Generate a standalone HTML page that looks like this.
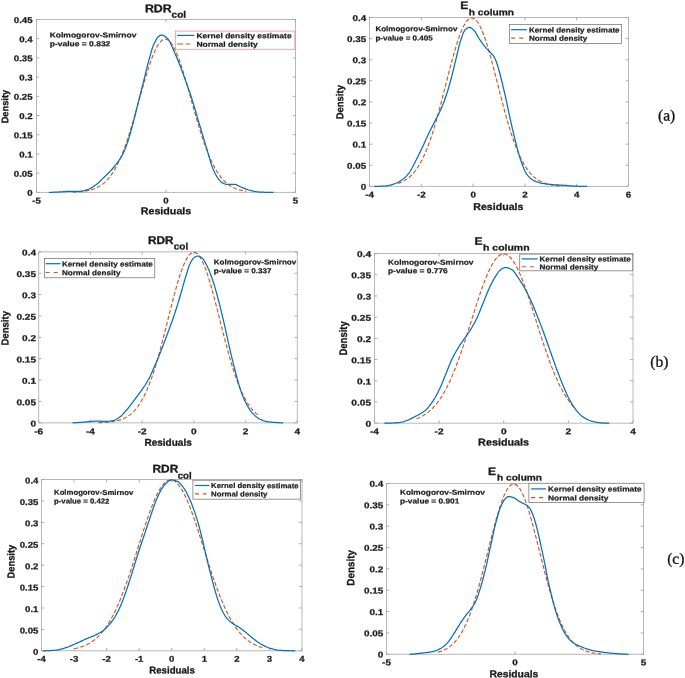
<!DOCTYPE html>
<html><head><meta charset="utf-8"><title>Residual density plots</title>
<style>
html,body{margin:0;padding:0;background:#fff;}
body{width:685px;height:678px;overflow:hidden;font-family:"Liberation Sans",sans-serif;}
svg{display:block;will-change:transform;}
</style></head><body>
<svg width="685" height="678" viewBox="0 0 685 678">
<rect width="685" height="678" fill="#ffffff"/>
<path d="M36.5 19.5H295.5V192.4H36.5Z" fill="none" stroke="#b8b8b8" stroke-width="1"/>
<path d="M36.5 192.4v-2.8M36.5 19.5v2.8M166 192.4v-2.8M166 19.5v2.8M295.5 192.4v-2.8M295.5 19.5v2.8M36.5 192.4h2.8M295.5 192.4h-2.8M36.5 173.19h2.8M295.5 173.19h-2.8M36.5 153.98h2.8M295.5 153.98h-2.8M36.5 134.77h2.8M295.5 134.77h-2.8M36.5 115.56h2.8M295.5 115.56h-2.8M36.5 96.34h2.8M295.5 96.34h-2.8M36.5 77.13h2.8M295.5 77.13h-2.8M36.5 57.92h2.8M295.5 57.92h-2.8M36.5 38.71h2.8M295.5 38.71h-2.8M36.5 19.5h2.8M295.5 19.5h-2.8" fill="none" stroke="#a4a4a4" stroke-width="0.9"/>
<text transform="translate(36.5 203.4) rotate(0.03) scale(1.150 1.000)" font-family="Liberation Sans, sans-serif" font-size="8.4" font-weight="bold" fill="#1a1a1a" text-anchor="middle" stroke="#1a1a1a" stroke-width="0.25" stroke-linejoin="round">-5</text>
<text transform="translate(166 203.4) rotate(0.03) scale(1.150 1.000)" font-family="Liberation Sans, sans-serif" font-size="8.4" font-weight="bold" fill="#1a1a1a" text-anchor="middle" stroke="#1a1a1a" stroke-width="0.25" stroke-linejoin="round">0</text>
<text transform="translate(295.5 203.4) rotate(0.03) scale(1.150 1.000)" font-family="Liberation Sans, sans-serif" font-size="8.4" font-weight="bold" fill="#1a1a1a" text-anchor="middle" stroke="#1a1a1a" stroke-width="0.25" stroke-linejoin="round">5</text>
<text transform="translate(32.6 195.85) rotate(0.03) scale(1.150 1.000)" font-family="Liberation Sans, sans-serif" font-size="8.4" font-weight="bold" fill="#1a1a1a" text-anchor="end" stroke="#1a1a1a" stroke-width="0.25" stroke-linejoin="round">0</text>
<text transform="translate(32.6 176.64) rotate(0.03) scale(1.150 1.000)" font-family="Liberation Sans, sans-serif" font-size="8.4" font-weight="bold" fill="#1a1a1a" text-anchor="end" stroke="#1a1a1a" stroke-width="0.25" stroke-linejoin="round">0.05</text>
<text transform="translate(32.6 157.43) rotate(0.03) scale(1.150 1.000)" font-family="Liberation Sans, sans-serif" font-size="8.4" font-weight="bold" fill="#1a1a1a" text-anchor="end" stroke="#1a1a1a" stroke-width="0.25" stroke-linejoin="round">0.1</text>
<text transform="translate(32.6 138.22) rotate(0.03) scale(1.150 1.000)" font-family="Liberation Sans, sans-serif" font-size="8.4" font-weight="bold" fill="#1a1a1a" text-anchor="end" stroke="#1a1a1a" stroke-width="0.25" stroke-linejoin="round">0.15</text>
<text transform="translate(32.6 119.01) rotate(0.03) scale(1.150 1.000)" font-family="Liberation Sans, sans-serif" font-size="8.4" font-weight="bold" fill="#1a1a1a" text-anchor="end" stroke="#1a1a1a" stroke-width="0.25" stroke-linejoin="round">0.2</text>
<text transform="translate(32.6 99.79) rotate(0.03) scale(1.150 1.000)" font-family="Liberation Sans, sans-serif" font-size="8.4" font-weight="bold" fill="#1a1a1a" text-anchor="end" stroke="#1a1a1a" stroke-width="0.25" stroke-linejoin="round">0.25</text>
<text transform="translate(32.6 80.58) rotate(0.03) scale(1.150 1.000)" font-family="Liberation Sans, sans-serif" font-size="8.4" font-weight="bold" fill="#1a1a1a" text-anchor="end" stroke="#1a1a1a" stroke-width="0.25" stroke-linejoin="round">0.3</text>
<text transform="translate(32.6 61.37) rotate(0.03) scale(1.150 1.000)" font-family="Liberation Sans, sans-serif" font-size="8.4" font-weight="bold" fill="#1a1a1a" text-anchor="end" stroke="#1a1a1a" stroke-width="0.25" stroke-linejoin="round">0.35</text>
<text transform="translate(32.6 42.16) rotate(0.03) scale(1.150 1.000)" font-family="Liberation Sans, sans-serif" font-size="8.4" font-weight="bold" fill="#1a1a1a" text-anchor="end" stroke="#1a1a1a" stroke-width="0.25" stroke-linejoin="round">0.4</text>
<text transform="translate(32.6 22.95) rotate(0.03) scale(1.150 1.000)" font-family="Liberation Sans, sans-serif" font-size="8.4" font-weight="bold" fill="#1a1a1a" text-anchor="end" stroke="#1a1a1a" stroke-width="0.25" stroke-linejoin="round">0.45</text>
<path d="M72.76 192.14 L73.63 192.1 L74.5 192.07 L75.38 192.03 L76.25 191.98 L77.12 191.93 L77.99 191.87 L78.86 191.81 L79.74 191.74 L80.61 191.66 L81.48 191.58 L82.35 191.48 L83.22 191.38 L84.1 191.27 L84.97 191.14 L85.84 191 L86.71 190.85 L87.58 190.69 L88.46 190.5 L89.33 190.31 L90.2 190.09 L91.07 189.86 L91.94 189.6 L92.82 189.32 L93.69 189.02 L94.56 188.69 L95.43 188.34 L96.3 187.95 L97.18 187.54 L98.05 187.09 L98.92 186.61 L99.79 186.1 L100.66 185.54 L101.54 184.94 L102.41 184.3 L103.28 183.62 L104.15 182.89 L105.02 182.11 L105.9 181.28 L106.77 180.39 L107.64 179.45 L108.51 178.46 L109.38 177.4 L110.26 176.28 L111.13 175.09 L112 173.84 L112.87 172.52 L113.74 171.14 L114.62 169.68 L115.49 168.15 L116.36 166.54 L117.23 164.86 L118.1 163.1 L118.98 161.27 L119.85 159.36 L120.72 157.37 L121.59 155.31 L122.46 153.17 L123.34 150.95 L124.21 148.65 L125.08 146.28 L125.95 143.84 L126.82 141.33 L127.7 138.74 L128.57 136.09 L129.44 133.38 L130.31 130.6 L131.18 127.77 L132.06 124.88 L132.93 121.95 L133.8 118.97 L134.67 115.95 L135.54 112.9 L136.42 109.82 L137.29 106.72 L138.16 103.6 L139.03 100.47 L139.9 97.34 L140.78 94.22 L141.65 91.1 L142.52 88.01 L143.39 84.94 L144.26 81.91 L145.14 78.93 L146.01 75.99 L146.88 73.12 L147.75 70.31 L148.62 67.57 L149.5 64.92 L150.37 62.36 L151.24 59.9 L152.11 57.55 L152.98 55.31 L153.86 53.19 L154.73 51.2 L155.6 49.34 L156.47 47.62 L157.34 46.05 L158.22 44.62 L159.09 43.36 L159.96 42.25 L160.83 41.3 L161.71 40.53 L162.58 39.92 L163.45 39.48 L164.32 39.21 L165.19 39.12 L166.07 39.2 L166.94 39.45 L167.81 39.88 L168.68 40.48 L169.55 41.24 L170.43 42.18 L171.3 43.28 L172.17 44.53 L173.04 45.94 L173.91 47.51 L174.79 49.22 L175.66 51.07 L176.53 53.05 L177.4 55.16 L178.27 57.39 L179.15 59.74 L180.02 62.19 L180.89 64.74 L181.76 67.39 L182.63 70.12 L183.51 72.92 L184.38 75.79 L185.25 78.72 L186.12 81.71 L186.99 84.74 L187.87 87.8 L188.74 90.89 L189.61 94 L190.48 97.13 L191.35 100.26 L192.23 103.38 L193.1 106.5 L193.97 109.61 L194.84 112.69 L195.71 115.74 L196.59 118.76 L197.46 121.75 L198.33 124.68 L199.2 127.57 L200.07 130.41 L200.95 133.19 L201.82 135.91 L202.69 138.56 L203.56 141.15 L204.43 143.67 L205.31 146.12 L206.18 148.49 L207.05 150.79 L207.92 153.02 L208.79 155.16 L209.67 157.23 L210.54 159.23 L211.41 161.14 L212.28 162.98 L213.15 164.74 L214.03 166.43 L214.9 168.04 L215.77 169.57 L216.64 171.04 L217.51 172.43 L218.39 173.75 L219.26 175.01 L220.13 176.2 L221 177.32 L221.87 178.38 L222.75 179.39 L223.62 180.33 L224.49 181.22 L225.36 182.05 L226.23 182.84 L227.11 183.57 L227.98 184.26 L228.85 184.9 L229.72 185.5 L230.59 186.06 L231.47 186.58 L232.34 187.06 L233.21 187.51 L234.08 187.93 L234.95 188.31 L235.83 188.67 L236.7 189 L237.57 189.3 L238.44 189.58 L239.31 189.84 L240.19 190.07 L241.06 190.29 L241.93 190.49 L242.8 190.67 L243.67 190.84 L244.55 190.99 L245.42 191.13 L246.29 191.26" fill="none" stroke="#D95319" stroke-width="1.15" stroke-dasharray="4.1 2.1"/>
<path d="M49.45 192.4 L50.31 192.37 L51.18 192.33 L52.04 192.3 L52.9 192.26 L53.77 192.22 L54.63 192.18 L55.49 192.15 L56.35 192.11 L57.22 192.07 L58.08 192.02 L58.94 191.98 L59.81 191.94 L60.67 191.89 L61.53 191.84 L62.4 191.78 L63.26 191.72 L64.12 191.66 L64.98 191.6 L65.85 191.55 L66.71 191.49 L67.57 191.45 L68.44 191.41 L69.3 191.38 L70.16 191.36 L71.03 191.34 L71.89 191.33 L72.75 191.33 L73.61 191.32 L74.48 191.31 L75.34 191.31 L76.2 191.3 L77.07 191.29 L77.93 191.29 L78.79 191.27 L79.66 191.26 L80.52 191.24 L81.38 191.17 L82.24 191.06 L83.11 190.9 L83.97 190.7 L84.83 190.47 L85.7 190.22 L86.56 189.95 L87.42 189.67 L88.28 189.38 L89.15 189.03 L90.01 188.62 L90.87 188.16 L91.74 187.66 L92.6 187.12 L93.46 186.55 L94.33 185.96 L95.19 185.36 L96.05 184.74 L96.91 184.05 L97.78 183.32 L98.64 182.54 L99.5 181.72 L100.37 180.88 L101.23 180.03 L102.09 179.18 L102.96 178.34 L103.82 177.52 L104.68 176.7 L105.55 175.87 L106.41 175.05 L107.27 174.21 L108.13 173.35 L109 172.48 L109.86 171.59 L110.72 170.67 L111.59 169.72 L112.45 168.76 L113.31 167.77 L114.17 166.75 L115.04 165.7 L115.9 164.62 L116.76 163.49 L117.63 162.33 L118.49 161.13 L119.35 159.9 L120.22 158.61 L121.08 157.24 L121.94 155.75 L122.8 154.13 L123.67 152.33 L124.53 150.37 L125.39 148.25 L126.26 145.99 L127.12 143.62 L127.98 141.14 L128.85 138.44 L129.71 135.53 L130.57 132.46 L131.44 129.29 L132.3 126.06 L133.16 122.83 L134.02 119.49 L134.89 116.03 L135.75 112.51 L136.61 108.98 L137.48 105.47 L138.34 102.03 L139.2 98.63 L140.06 95.24 L140.93 91.87 L141.79 88.48 L142.65 85.09 L143.52 81.66 L144.38 78.16 L145.24 74.6 L146.11 71.06 L146.97 67.58 L147.83 64.22 L148.69 61.02 L149.56 57.8 L150.42 54.6 L151.28 51.55 L152.15 48.76 L153.01 46.35 L153.87 44.33 L154.74 42.42 L155.6 40.65 L156.46 39.08 L157.32 37.77 L158.19 36.81 L159.05 36.15 L159.91 35.58 L160.78 35.17 L161.64 35.02 L162.5 35.14 L163.37 35.45 L164.23 35.92 L165.09 36.51 L165.95 37.18 L166.82 37.91 L167.68 38.7 L168.54 39.76 L169.41 41.12 L170.27 42.71 L171.13 44.49 L172 46.41 L172.86 48.41 L173.72 50.45 L174.58 52.48 L175.45 54.45 L176.31 56.42 L177.17 58.47 L178.04 60.59 L178.9 62.77 L179.76 64.99 L180.63 67.26 L181.49 69.55 L182.35 71.85 L183.21 74.15 L184.08 76.46 L184.94 78.79 L185.8 81.14 L186.67 83.52 L187.53 85.93 L188.39 88.39 L189.26 90.89 L190.12 93.44 L190.98 96.05 L191.84 98.75 L192.71 101.54 L193.57 104.4 L194.43 107.3 L195.3 110.25 L196.16 113.2 L197.02 116.16 L197.89 119.09 L198.75 121.99 L199.61 124.88 L200.47 127.77 L201.34 130.67 L202.2 133.56 L203.06 136.46 L203.93 139.34 L204.79 142.22 L205.65 145.08 L206.52 147.94 L207.38 150.9 L208.24 153.93 L209.1 156.97 L209.97 159.94 L210.83 162.76 L211.69 165.36 L212.56 167.66 L213.42 169.72 L214.28 171.67 L215.15 173.49 L216.01 175.15 L216.87 176.63 L217.73 177.9 L218.6 179.04 L219.46 180.12 L220.32 181.12 L221.19 181.98 L222.05 182.67 L222.91 183.15 L223.78 183.48 L224.64 183.79 L225.5 184.05 L226.36 184.26 L227.23 184.39 L228.09 184.45 L228.95 184.45 L229.82 184.45 L230.68 184.45 L231.54 184.45 L232.41 184.45 L233.27 184.45 L234.13 184.45 L235 184.47 L235.86 184.64 L236.72 184.94 L237.58 185.33 L238.45 185.78 L239.31 186.24 L240.17 186.67 L241.04 187.04 L241.9 187.38 L242.76 187.73 L243.62 188.09 L244.49 188.45 L245.35 188.8 L246.21 189.14 L247.08 189.46 L247.94 189.76 L248.8 190.03 L249.67 190.26 L250.53 190.47 L251.39 190.68 L252.26 190.88 L253.12 191.07 L253.98 191.26 L254.84 191.44 L255.71 191.6 L256.57 191.75 L257.43 191.87 L258.3 191.98 L259.16 192.06 L260.02 192.12 L260.88 192.15 L261.75 192.19 L262.61 192.22 L263.47 192.24 L264.34 192.27 L265.2 192.29 L266.06 192.31 L266.93 192.33 L267.79 192.35 L268.65 192.37 L269.51 192.38 L270.38 192.39 L271.24 192.39 L272.1 192.4 L272.97 192.4" fill="none" stroke="#0072BD" stroke-width="1.25" stroke-linejoin="round" stroke-linecap="round"/>
<rect x="175.3" y="31.1" width="119.6" height="18.2" fill="#fff" stroke="#f09090" stroke-width="0.8"/>
<path d="M177.2 35.4H194.3" stroke="#0072BD" stroke-width="1.2" fill="none"/>
<path d="M177.2 44H183.3M185.6 44H190.5" stroke="#D95319" stroke-width="1.15" fill="none"/>
<text transform="translate(196.4 38.3) rotate(0.03) scale(1.164 1.000)" font-family="Liberation Sans, sans-serif" font-size="7.3" font-weight="bold" fill="#1a1a1a" text-anchor="start" stroke="#1a1a1a" stroke-width="0.22" stroke-linejoin="round">Kernel density estimate</text>
<text transform="translate(196.4 46.8) rotate(0.03) scale(1.164 1.000)" font-family="Liberation Sans, sans-serif" font-size="7.3" font-weight="bold" fill="#1a1a1a" text-anchor="start" stroke="#1a1a1a" stroke-width="0.22" stroke-linejoin="round">Normal density</text>
<text transform="translate(49.7 37.4) rotate(0.03) scale(1.166 1.000)" font-family="Liberation Sans, sans-serif" font-size="7.3" font-weight="bold" fill="#1a1a1a" text-anchor="start" stroke="#1a1a1a" stroke-width="0.22" stroke-linejoin="round">Kolmogorov-Smirnov</text>
<text transform="translate(49.7 46.15) rotate(0.03) scale(1.166 1.000)" font-family="Liberation Sans, sans-serif" font-size="7.3" font-weight="bold" fill="#1a1a1a" text-anchor="start" stroke="#1a1a1a" stroke-width="0.22" stroke-linejoin="round">p-value = 0.832</text>
<text transform="translate(144.9 12.2) rotate(0.03) scale(1.104 1.000)" font-family="Liberation Sans, sans-serif" font-size="11.2" font-weight="bold" fill="#1a1a1a" text-anchor="start" stroke="#1a1a1a" stroke-width="0.34" stroke-linejoin="round">RDR</text>
<text transform="translate(171.6 17.7) rotate(0.03) scale(1.056 1.000)" font-family="Liberation Sans, sans-serif" font-size="9.5" font-weight="bold" fill="#1a1a1a" text-anchor="start" stroke="#1a1a1a" stroke-width="0.28" stroke-linejoin="round">col</text>
<text transform="translate(8.15 106.6) rotate(-89.97) scale(1.000 1.040)" font-family="Liberation Sans, sans-serif" font-size="9.3" font-weight="bold" fill="#1a1a1a" text-anchor="middle" stroke="#1a1a1a" stroke-width="0.28" stroke-linejoin="round">Density</text>
<text transform="translate(140.75 214.3) rotate(0.03) scale(1.091 1.000)" font-family="Liberation Sans, sans-serif" font-size="9.8" font-weight="bold" fill="#1a1a1a" text-anchor="start" stroke="#1a1a1a" stroke-width="0.29" stroke-linejoin="round">Residuals</text>
<path d="M369.5 17.5H628.5V186.4H369.5Z" fill="none" stroke="#b8b8b8" stroke-width="1"/>
<path d="M369.5 186.4v-2.8M369.5 17.5v2.8M421.3 186.4v-2.8M421.3 17.5v2.8M473.1 186.4v-2.8M473.1 17.5v2.8M524.9 186.4v-2.8M524.9 17.5v2.8M576.7 186.4v-2.8M576.7 17.5v2.8M628.5 186.4v-2.8M628.5 17.5v2.8M369.5 186.4h2.8M628.5 186.4h-2.8M369.5 165.29h2.8M628.5 165.29h-2.8M369.5 144.18h2.8M628.5 144.18h-2.8M369.5 123.06h2.8M628.5 123.06h-2.8M369.5 101.95h2.8M628.5 101.95h-2.8M369.5 80.84h2.8M628.5 80.84h-2.8M369.5 59.73h2.8M628.5 59.73h-2.8M369.5 38.61h2.8M628.5 38.61h-2.8M369.5 17.5h2.8M628.5 17.5h-2.8" fill="none" stroke="#a4a4a4" stroke-width="0.9"/>
<text transform="translate(369.5 197.4) rotate(0.03) scale(1.170 1.000)" font-family="Liberation Sans, sans-serif" font-size="8.4" font-weight="bold" fill="#1a1a1a" text-anchor="middle" stroke="#1a1a1a" stroke-width="0.25" stroke-linejoin="round">-4</text>
<text transform="translate(421.3 197.4) rotate(0.03) scale(1.170 1.000)" font-family="Liberation Sans, sans-serif" font-size="8.4" font-weight="bold" fill="#1a1a1a" text-anchor="middle" stroke="#1a1a1a" stroke-width="0.25" stroke-linejoin="round">-2</text>
<text transform="translate(473.1 197.4) rotate(0.03) scale(1.170 1.000)" font-family="Liberation Sans, sans-serif" font-size="8.4" font-weight="bold" fill="#1a1a1a" text-anchor="middle" stroke="#1a1a1a" stroke-width="0.25" stroke-linejoin="round">0</text>
<text transform="translate(524.9 197.4) rotate(0.03) scale(1.170 1.000)" font-family="Liberation Sans, sans-serif" font-size="8.4" font-weight="bold" fill="#1a1a1a" text-anchor="middle" stroke="#1a1a1a" stroke-width="0.25" stroke-linejoin="round">2</text>
<text transform="translate(576.7 197.4) rotate(0.03) scale(1.170 1.000)" font-family="Liberation Sans, sans-serif" font-size="8.4" font-weight="bold" fill="#1a1a1a" text-anchor="middle" stroke="#1a1a1a" stroke-width="0.25" stroke-linejoin="round">4</text>
<text transform="translate(628.5 197.4) rotate(0.03) scale(1.170 1.000)" font-family="Liberation Sans, sans-serif" font-size="8.4" font-weight="bold" fill="#1a1a1a" text-anchor="middle" stroke="#1a1a1a" stroke-width="0.25" stroke-linejoin="round">6</text>
<text transform="translate(366.2 189.8) rotate(0.03) scale(1.170 1.000)" font-family="Liberation Sans, sans-serif" font-size="8.4" font-weight="bold" fill="#1a1a1a" text-anchor="end" stroke="#1a1a1a" stroke-width="0.25" stroke-linejoin="round">0</text>
<text transform="translate(366.2 168.69) rotate(0.03) scale(1.170 1.000)" font-family="Liberation Sans, sans-serif" font-size="8.4" font-weight="bold" fill="#1a1a1a" text-anchor="end" stroke="#1a1a1a" stroke-width="0.25" stroke-linejoin="round">0.05</text>
<text transform="translate(366.2 147.58) rotate(0.03) scale(1.170 1.000)" font-family="Liberation Sans, sans-serif" font-size="8.4" font-weight="bold" fill="#1a1a1a" text-anchor="end" stroke="#1a1a1a" stroke-width="0.25" stroke-linejoin="round">0.1</text>
<text transform="translate(366.2 126.46) rotate(0.03) scale(1.170 1.000)" font-family="Liberation Sans, sans-serif" font-size="8.4" font-weight="bold" fill="#1a1a1a" text-anchor="end" stroke="#1a1a1a" stroke-width="0.25" stroke-linejoin="round">0.15</text>
<text transform="translate(366.2 105.35) rotate(0.03) scale(1.170 1.000)" font-family="Liberation Sans, sans-serif" font-size="8.4" font-weight="bold" fill="#1a1a1a" text-anchor="end" stroke="#1a1a1a" stroke-width="0.25" stroke-linejoin="round">0.2</text>
<text transform="translate(366.2 84.24) rotate(0.03) scale(1.170 1.000)" font-family="Liberation Sans, sans-serif" font-size="8.4" font-weight="bold" fill="#1a1a1a" text-anchor="end" stroke="#1a1a1a" stroke-width="0.25" stroke-linejoin="round">0.25</text>
<text transform="translate(366.2 63.13) rotate(0.03) scale(1.170 1.000)" font-family="Liberation Sans, sans-serif" font-size="8.4" font-weight="bold" fill="#1a1a1a" text-anchor="end" stroke="#1a1a1a" stroke-width="0.25" stroke-linejoin="round">0.3</text>
<text transform="translate(366.2 42.01) rotate(0.03) scale(1.170 1.000)" font-family="Liberation Sans, sans-serif" font-size="8.4" font-weight="bold" fill="#1a1a1a" text-anchor="end" stroke="#1a1a1a" stroke-width="0.25" stroke-linejoin="round">0.35</text>
<text transform="translate(366.2 20.9) rotate(0.03) scale(1.170 1.000)" font-family="Liberation Sans, sans-serif" font-size="8.4" font-weight="bold" fill="#1a1a1a" text-anchor="end" stroke="#1a1a1a" stroke-width="0.25" stroke-linejoin="round">0.4</text>
<path d="M397.99 183.5 L398.82 183.22 L399.64 182.93 L400.47 182.61 L401.3 182.26 L402.12 181.89 L402.95 181.48 L403.78 181.05 L404.6 180.59 L405.43 180.09 L406.25 179.55 L407.08 178.98 L407.91 178.37 L408.73 177.71 L409.56 177.02 L410.39 176.28 L411.21 175.48 L412.04 174.64 L412.87 173.75 L413.69 172.81 L414.52 171.81 L415.35 170.75 L416.17 169.63 L417 168.45 L417.82 167.2 L418.65 165.89 L419.48 164.52 L420.3 163.07 L421.13 161.56 L421.96 159.97 L422.78 158.31 L423.61 156.57 L424.44 154.77 L425.26 152.88 L426.09 150.92 L426.92 148.89 L427.74 146.77 L428.57 144.58 L429.4 142.32 L430.22 139.98 L431.05 137.56 L431.87 135.07 L432.7 132.51 L433.53 129.88 L434.35 127.18 L435.18 124.42 L436.01 121.59 L436.83 118.7 L437.66 115.76 L438.49 112.76 L439.31 109.71 L440.14 106.62 L440.97 103.49 L441.79 100.32 L442.62 97.12 L443.45 93.9 L444.27 90.66 L445.1 87.41 L445.92 84.15 L446.75 80.89 L447.58 77.64 L448.4 74.4 L449.23 71.18 L450.06 67.99 L450.88 64.84 L451.71 61.73 L452.54 58.67 L453.36 55.67 L454.19 52.73 L455.02 49.87 L455.84 47.09 L456.67 44.39 L457.49 41.79 L458.32 39.3 L459.15 36.91 L459.97 34.64 L460.8 32.49 L461.63 30.46 L462.45 28.58 L463.28 26.83 L464.11 25.23 L464.93 23.77 L465.76 22.47 L466.59 21.33 L467.41 20.35 L468.24 19.54 L469.07 18.89 L469.89 18.41 L470.72 18.09 L471.54 17.96 L472.37 17.99 L473.2 18.19 L474.02 18.56 L474.85 19.11 L475.68 19.82 L476.5 20.7 L477.33 21.74 L478.16 22.94 L478.98 24.29 L479.81 25.8 L480.64 27.46 L481.46 29.26 L482.29 31.2 L483.12 33.27 L483.94 35.46 L484.77 37.78 L485.59 40.21 L486.42 42.74 L487.25 45.38 L488.07 48.11 L488.9 50.92 L489.73 53.81 L490.55 56.77 L491.38 59.8 L492.21 62.88 L493.03 66 L493.86 69.17 L494.69 72.37 L495.51 75.6 L496.34 78.84 L497.16 82.1 L497.99 85.36 L498.82 88.61 L499.64 91.86 L500.47 95.1 L501.3 98.31 L502.12 101.5 L502.95 104.65 L503.78 107.77 L504.6 110.84 L505.43 113.87 L506.26 116.85 L507.08 119.78 L507.91 122.64 L508.74 125.45 L509.56 128.19 L510.39 130.86 L511.21 133.47 L512.04 136 L512.87 138.46 L513.69 140.85 L514.52 143.16 L515.35 145.4 L516.17 147.56 L517 149.65 L517.83 151.66 L518.65 153.59 L519.48 155.44 L520.31 157.22 L521.13 158.93 L521.96 160.56 L522.79 162.12 L523.61 163.61 L524.44 165.03 L525.26 166.39 L526.09 167.67 L526.92 168.89 L527.74 170.05 L528.57 171.15 L529.4 172.18 L530.22 173.16 L531.05 174.09 L531.88 174.96 L532.7 175.78 L533.53 176.56 L534.36 177.28 L535.18 177.96 L536.01 178.6 L536.83 179.2 L537.66 179.75 L538.49 180.28 L539.31 180.76 L540.14 181.21 L540.97 181.64 L541.79 182.03 L542.62 182.39 L543.45 182.73 L544.27 183.04 L545.1 183.33 L545.93 183.59 L546.75 183.84 L547.58 184.07 L548.41 184.28 L549.23 184.47 L550.06 184.65 L550.88 184.81 L551.71 184.96 L552.54 185.09 L553.36 185.22 L554.19 185.33 L555.02 185.43 L555.84 185.53 L556.67 185.61 L557.5 185.69 L558.32 185.76 L559.15 185.83 L559.98 185.89 L560.8 185.94 L561.63 185.99 L562.46 186.03" fill="none" stroke="#D95319" stroke-width="1.15" stroke-dasharray="4.1 2.1"/>
<path d="M374.68 186.4 L375.5 186.4 L376.32 186.39 L377.14 186.37 L377.96 186.35 L378.77 186.32 L379.59 186.29 L380.41 186.25 L381.23 186.21 L382.05 186.17 L382.87 186.12 L383.69 186.07 L384.51 186.01 L385.33 185.96 L386.15 185.87 L386.96 185.76 L387.78 185.62 L388.6 185.46 L389.42 185.27 L390.24 185.07 L391.06 184.84 L391.88 184.6 L392.7 184.35 L393.52 184.08 L394.34 183.81 L395.15 183.53 L395.97 183.23 L396.79 182.9 L397.61 182.52 L398.43 182.1 L399.25 181.64 L400.07 181.15 L400.89 180.63 L401.71 180.08 L402.53 179.5 L403.35 178.89 L404.16 178.22 L404.98 177.48 L405.8 176.68 L406.62 175.82 L407.44 174.89 L408.26 173.91 L409.08 172.87 L409.9 171.75 L410.72 170.48 L411.54 169.07 L412.35 167.55 L413.17 165.97 L413.99 164.34 L414.81 162.71 L415.63 161.09 L416.45 159.5 L417.27 157.89 L418.09 156.24 L418.91 154.58 L419.73 152.89 L420.54 151.19 L421.36 149.48 L422.18 147.75 L423 146 L423.82 144.2 L424.64 142.39 L425.46 140.56 L426.28 138.74 L427.1 136.94 L427.92 135.17 L428.73 133.45 L429.55 131.77 L430.37 130.12 L431.19 128.48 L432.01 126.87 L432.83 125.26 L433.65 123.66 L434.47 122.05 L435.29 120.44 L436.11 118.87 L436.92 117.33 L437.74 115.79 L438.56 114.21 L439.38 112.57 L440.2 110.83 L441.02 109 L441.84 107.1 L442.66 105.12 L443.48 103.06 L444.3 100.91 L445.11 98.67 L445.93 96.31 L446.75 93.82 L447.57 91.19 L448.39 88.46 L449.21 85.64 L450.03 82.73 L450.85 79.75 L451.67 76.61 L452.49 73.33 L453.3 69.97 L454.12 66.58 L454.94 63.21 L455.76 59.91 L456.58 56.51 L457.4 53 L458.22 49.52 L459.04 46.19 L459.86 43.12 L460.68 40.43 L461.49 38 L462.31 35.61 L463.13 33.43 L463.95 31.6 L464.77 30.26 L465.59 29.41 L466.41 28.68 L467.23 28.06 L468.05 27.61 L468.87 27.36 L469.68 27.38 L470.5 27.65 L471.32 28.1 L472.14 28.69 L472.96 29.36 L473.78 30.06 L474.6 31 L475.42 32.23 L476.24 33.65 L477.06 35.16 L477.87 36.66 L478.69 38.05 L479.51 39.28 L480.33 40.47 L481.15 41.64 L481.97 42.79 L482.79 43.9 L483.61 44.98 L484.43 46.03 L485.25 47.02 L486.06 47.96 L486.88 48.84 L487.7 49.68 L488.52 50.51 L489.34 51.35 L490.16 52.22 L490.98 53.12 L491.8 53.97 L492.62 54.86 L493.44 55.85 L494.25 57.05 L495.07 58.63 L495.89 60.65 L496.71 63 L497.53 65.55 L498.35 68.15 L499.17 70.96 L499.99 74.03 L500.81 77.26 L501.62 80.57 L502.44 83.89 L503.26 87.28 L504.08 90.75 L504.9 94.31 L505.72 97.94 L506.54 101.66 L507.36 105.54 L508.18 109.49 L509 113.42 L509.81 117.22 L510.63 120.9 L511.45 124.51 L512.27 128.07 L513.09 131.56 L513.91 134.98 L514.73 138.38 L515.55 141.74 L516.37 145 L517.19 148.12 L518 151.09 L518.82 154.01 L519.64 156.81 L520.46 159.44 L521.28 161.84 L522.1 164.08 L522.92 166.26 L523.74 168.34 L524.56 170.25 L525.38 171.94 L526.19 173.35 L527.01 174.49 L527.83 175.54 L528.65 176.5 L529.47 177.37 L530.29 178.15 L531.11 178.85 L531.93 179.45 L532.75 179.97 L533.57 180.4 L534.38 180.81 L535.2 181.19 L536.02 181.55 L536.84 181.87 L537.66 182.18 L538.48 182.45 L539.3 182.7 L540.12 182.92 L540.94 183.12 L541.76 183.29 L542.57 183.44 L543.39 183.58 L544.21 183.71 L545.03 183.83 L545.85 183.94 L546.67 184.04 L547.49 184.14 L548.31 184.23 L549.13 184.31 L549.95 184.39 L550.76 184.47 L551.58 184.54 L552.4 184.61 L553.22 184.67 L554.04 184.73 L554.86 184.79 L555.68 184.84 L556.5 184.89 L557.32 184.94 L558.14 184.99 L558.95 185.03 L559.77 185.08 L560.59 185.12 L561.41 185.17 L562.23 185.21 L563.05 185.26 L563.87 185.31 L564.69 185.36 L565.51 185.42 L566.33 185.48 L567.14 185.55 L567.96 185.62 L568.78 185.69 L569.6 185.76 L570.42 185.83 L571.24 185.9 L572.06 185.96 L572.88 186.02 L573.7 186.07 L574.52 186.11 L575.34 186.15 L576.15 186.18 L576.97 186.2 L577.79 186.23 L578.61 186.26 L579.43 186.28 L580.25 186.3 L581.07 186.32 L581.89 186.34 L582.71 186.36 L583.52 186.37 L584.34 186.38 L585.16 186.39 L585.98 186.4 L586.8 186.4" fill="none" stroke="#0072BD" stroke-width="1.25" stroke-linejoin="round" stroke-linecap="round"/>
<rect x="509.4" y="24.5" width="112.1" height="18.9" fill="#fff" stroke="#7d7d7d" stroke-width="0.8"/>
<path d="M511.1 29.7H526.9" stroke="#0072BD" stroke-width="1.2" fill="none"/>
<path d="M511.1 38.15H515.1M519.3 38.15H523.3" stroke="#D95319" stroke-width="1.15" fill="none"/>
<text transform="translate(529 32.4) rotate(0.03) scale(1.107 1.000)" font-family="Liberation Sans, sans-serif" font-size="7.3" font-weight="bold" fill="#1a1a1a" text-anchor="start" stroke="#1a1a1a" stroke-width="0.22" stroke-linejoin="round">Kernel density estimate</text>
<text transform="translate(529 40.8) rotate(0.03) scale(1.107 1.000)" font-family="Liberation Sans, sans-serif" font-size="7.3" font-weight="bold" fill="#1a1a1a" text-anchor="start" stroke="#1a1a1a" stroke-width="0.22" stroke-linejoin="round">Normal density</text>
<text transform="translate(375.4 31.25) rotate(0.03) scale(1.101 1.000)" font-family="Liberation Sans, sans-serif" font-size="7.3" font-weight="bold" fill="#1a1a1a" text-anchor="start" stroke="#1a1a1a" stroke-width="0.22" stroke-linejoin="round">Kolmogorov-Smirnov</text>
<text transform="translate(375.4 40.4) rotate(0.03) scale(1.101 1.000)" font-family="Liberation Sans, sans-serif" font-size="7.3" font-weight="bold" fill="#1a1a1a" text-anchor="start" stroke="#1a1a1a" stroke-width="0.22" stroke-linejoin="round">p-value = 0.405</text>
<text transform="translate(460.2 9) rotate(0.03) scale(1.120 1.000)" font-family="Liberation Sans, sans-serif" font-size="10.8" font-weight="bold" fill="#1a1a1a" text-anchor="start" stroke="#1a1a1a" stroke-width="0.32" stroke-linejoin="round">E</text>
<text transform="translate(468.8 15.2) rotate(0.03) scale(1.158 1.000)" font-family="Liberation Sans, sans-serif" font-size="8.8" font-weight="bold" fill="#1a1a1a" text-anchor="start" stroke="#1a1a1a" stroke-width="0.26" stroke-linejoin="round">h column</text>
<text transform="translate(343.2 102.2) rotate(-89.97) scale(1.000 1.060)" font-family="Liberation Sans, sans-serif" font-size="9.5" font-weight="bold" fill="#1a1a1a" text-anchor="middle" stroke="#1a1a1a" stroke-width="0.28" stroke-linejoin="round">Density</text>
<text transform="translate(473.3 210.1) rotate(0.03) scale(1.084 1.000)" font-family="Liberation Sans, sans-serif" font-size="9.8" font-weight="bold" fill="#1a1a1a" text-anchor="start" stroke="#1a1a1a" stroke-width="0.29" stroke-linejoin="round">Residuals</text>
<path d="M38.7 251.85H297.3V422.85H38.7Z" fill="none" stroke="#b8b8b8" stroke-width="1"/>
<path d="M38.7 422.85v-2.8M38.7 251.85v2.8M90.42 422.85v-2.8M90.42 251.85v2.8M142.14 422.85v-2.8M142.14 251.85v2.8M193.86 422.85v-2.8M193.86 251.85v2.8M245.58 422.85v-2.8M245.58 251.85v2.8M297.3 422.85v-2.8M297.3 251.85v2.8M38.7 422.85h2.8M297.3 422.85h-2.8M38.7 401.48h2.8M297.3 401.48h-2.8M38.7 380.1h2.8M297.3 380.1h-2.8M38.7 358.73h2.8M297.3 358.73h-2.8M38.7 337.35h2.8M297.3 337.35h-2.8M38.7 315.98h2.8M297.3 315.98h-2.8M38.7 294.6h2.8M297.3 294.6h-2.8M38.7 273.23h2.8M297.3 273.23h-2.8M38.7 251.85h2.8M297.3 251.85h-2.8" fill="none" stroke="#a4a4a4" stroke-width="0.9"/>
<text transform="translate(38.7 434.25) rotate(0.03) scale(1.195 1.000)" font-family="Liberation Sans, sans-serif" font-size="8.4" font-weight="bold" fill="#1a1a1a" text-anchor="middle" stroke="#1a1a1a" stroke-width="0.25" stroke-linejoin="round">-6</text>
<text transform="translate(90.42 434.25) rotate(0.03) scale(1.195 1.000)" font-family="Liberation Sans, sans-serif" font-size="8.4" font-weight="bold" fill="#1a1a1a" text-anchor="middle" stroke="#1a1a1a" stroke-width="0.25" stroke-linejoin="round">-4</text>
<text transform="translate(142.14 434.25) rotate(0.03) scale(1.195 1.000)" font-family="Liberation Sans, sans-serif" font-size="8.4" font-weight="bold" fill="#1a1a1a" text-anchor="middle" stroke="#1a1a1a" stroke-width="0.25" stroke-linejoin="round">-2</text>
<text transform="translate(193.86 434.25) rotate(0.03) scale(1.195 1.000)" font-family="Liberation Sans, sans-serif" font-size="8.4" font-weight="bold" fill="#1a1a1a" text-anchor="middle" stroke="#1a1a1a" stroke-width="0.25" stroke-linejoin="round">0</text>
<text transform="translate(245.58 434.25) rotate(0.03) scale(1.195 1.000)" font-family="Liberation Sans, sans-serif" font-size="8.4" font-weight="bold" fill="#1a1a1a" text-anchor="middle" stroke="#1a1a1a" stroke-width="0.25" stroke-linejoin="round">2</text>
<text transform="translate(297.3 434.25) rotate(0.03) scale(1.195 1.000)" font-family="Liberation Sans, sans-serif" font-size="8.4" font-weight="bold" fill="#1a1a1a" text-anchor="middle" stroke="#1a1a1a" stroke-width="0.25" stroke-linejoin="round">4</text>
<text transform="translate(36 426.55) rotate(0.03) scale(1.195 1.000)" font-family="Liberation Sans, sans-serif" font-size="8.4" font-weight="bold" fill="#1a1a1a" text-anchor="end" stroke="#1a1a1a" stroke-width="0.25" stroke-linejoin="round">0</text>
<text transform="translate(36 405.18) rotate(0.03) scale(1.195 1.000)" font-family="Liberation Sans, sans-serif" font-size="8.4" font-weight="bold" fill="#1a1a1a" text-anchor="end" stroke="#1a1a1a" stroke-width="0.25" stroke-linejoin="round">0.05</text>
<text transform="translate(36 383.8) rotate(0.03) scale(1.195 1.000)" font-family="Liberation Sans, sans-serif" font-size="8.4" font-weight="bold" fill="#1a1a1a" text-anchor="end" stroke="#1a1a1a" stroke-width="0.25" stroke-linejoin="round">0.1</text>
<text transform="translate(36 362.43) rotate(0.03) scale(1.195 1.000)" font-family="Liberation Sans, sans-serif" font-size="8.4" font-weight="bold" fill="#1a1a1a" text-anchor="end" stroke="#1a1a1a" stroke-width="0.25" stroke-linejoin="round">0.15</text>
<text transform="translate(36 341.05) rotate(0.03) scale(1.195 1.000)" font-family="Liberation Sans, sans-serif" font-size="8.4" font-weight="bold" fill="#1a1a1a" text-anchor="end" stroke="#1a1a1a" stroke-width="0.25" stroke-linejoin="round">0.2</text>
<text transform="translate(36 319.68) rotate(0.03) scale(1.195 1.000)" font-family="Liberation Sans, sans-serif" font-size="8.4" font-weight="bold" fill="#1a1a1a" text-anchor="end" stroke="#1a1a1a" stroke-width="0.25" stroke-linejoin="round">0.25</text>
<text transform="translate(36 298.3) rotate(0.03) scale(1.195 1.000)" font-family="Liberation Sans, sans-serif" font-size="8.4" font-weight="bold" fill="#1a1a1a" text-anchor="end" stroke="#1a1a1a" stroke-width="0.25" stroke-linejoin="round">0.3</text>
<text transform="translate(36 276.93) rotate(0.03) scale(1.195 1.000)" font-family="Liberation Sans, sans-serif" font-size="8.4" font-weight="bold" fill="#1a1a1a" text-anchor="end" stroke="#1a1a1a" stroke-width="0.25" stroke-linejoin="round">0.35</text>
<text transform="translate(36 255.55) rotate(0.03) scale(1.195 1.000)" font-family="Liberation Sans, sans-serif" font-size="8.4" font-weight="bold" fill="#1a1a1a" text-anchor="end" stroke="#1a1a1a" stroke-width="0.25" stroke-linejoin="round">0.4</text>
<path d="M98.7 422.65 L99.49 422.63 L100.29 422.61 L101.09 422.58 L101.89 422.54 L102.69 422.51 L103.49 422.47 L104.29 422.43 L105.09 422.38 L105.89 422.33 L106.69 422.27 L107.49 422.21 L108.29 422.14 L109.08 422.06 L109.88 421.98 L110.68 421.88 L111.48 421.78 L112.28 421.67 L113.08 421.55 L113.88 421.42 L114.68 421.28 L115.48 421.12 L116.28 420.96 L117.08 420.77 L117.88 420.57 L118.67 420.36 L119.47 420.13 L120.27 419.87 L121.07 419.6 L121.87 419.31 L122.67 418.99 L123.47 418.65 L124.27 418.29 L125.07 417.89 L125.87 417.47 L126.67 417.02 L127.47 416.53 L128.27 416.02 L129.06 415.46 L129.86 414.87 L130.66 414.24 L131.46 413.57 L132.26 412.86 L133.06 412.1 L133.86 411.29 L134.66 410.44 L135.46 409.54 L136.26 408.58 L137.06 407.57 L137.86 406.5 L138.65 405.38 L139.45 404.2 L140.25 402.96 L141.05 401.65 L141.85 400.28 L142.65 398.84 L143.45 397.34 L144.25 395.77 L145.05 394.13 L145.85 392.42 L146.65 390.64 L147.45 388.78 L148.25 386.86 L149.04 384.86 L149.84 382.79 L150.64 380.64 L151.44 378.43 L152.24 376.14 L153.04 373.78 L153.84 371.35 L154.64 368.86 L155.44 366.29 L156.24 363.66 L157.04 360.97 L157.84 358.22 L158.63 355.41 L159.43 352.54 L160.23 349.62 L161.03 346.66 L161.83 343.65 L162.63 340.6 L163.43 337.51 L164.23 334.39 L165.03 331.24 L165.83 328.08 L166.63 324.9 L167.43 321.7 L168.22 318.51 L169.02 315.31 L169.82 312.13 L170.62 308.95 L171.42 305.8 L172.22 302.68 L173.02 299.59 L173.82 296.54 L174.62 293.54 L175.42 290.6 L176.22 287.71 L177.02 284.9 L177.82 282.16 L178.61 279.51 L179.41 276.94 L180.21 274.47 L181.01 272.1 L181.81 269.85 L182.61 267.7 L183.41 265.68 L184.21 263.78 L185.01 262.01 L185.81 260.37 L186.61 258.88 L187.41 257.53 L188.2 256.33 L189 255.28 L189.8 254.39 L190.6 253.65 L191.4 253.07 L192.2 252.65 L193 252.4 L193.8 252.3 L194.6 252.37 L195.4 252.6 L196.2 253 L197 253.55 L197.79 254.27 L198.59 255.14 L199.39 256.16 L200.19 257.34 L200.99 258.67 L201.79 260.14 L202.59 261.75 L203.39 263.5 L204.19 265.38 L204.99 267.38 L205.79 269.51 L206.59 271.75 L207.39 274.1 L208.18 276.56 L208.98 279.11 L209.78 281.75 L210.58 284.48 L211.38 287.28 L212.18 290.15 L212.98 293.09 L213.78 296.08 L214.58 299.12 L215.38 302.2 L216.18 305.32 L216.98 308.47 L217.77 311.64 L218.57 314.83 L219.37 318.02 L220.17 321.22 L220.97 324.41 L221.77 327.59 L222.57 330.76 L223.37 333.91 L224.17 337.03 L224.97 340.13 L225.77 343.18 L226.57 346.2 L227.36 349.17 L228.16 352.1 L228.96 354.97 L229.76 357.79 L230.56 360.55 L231.36 363.26 L232.16 365.9 L232.96 368.47 L233.76 370.98 L234.56 373.42 L235.36 375.79 L236.16 378.08 L236.96 380.31 L237.75 382.47 L238.55 384.55 L239.35 386.56 L240.15 388.49 L240.95 390.36 L241.75 392.15 L242.55 393.87 L243.35 395.52 L244.15 397.11 L244.95 398.62 L245.75 400.06 L246.55 401.44 L247.34 402.76 L248.14 404.01 L248.94 405.2 L249.74 406.34 L250.54 407.41 L251.34 408.43 L252.14 409.39 L252.94 410.3 L253.74 411.17 L254.54 411.98 L255.34 412.74 L256.14 413.46 L256.94 414.14 L257.73 414.78" fill="none" stroke="#D95319" stroke-width="1.15" stroke-dasharray="4.1 2.1"/>
<path d="M73.09 422.85 L73.9 422.8 L74.71 422.75 L75.52 422.7 L76.33 422.65 L77.14 422.6 L77.95 422.55 L78.76 422.49 L79.57 422.44 L80.38 422.38 L81.19 422.33 L82 422.27 L82.81 422.21 L83.62 422.15 L84.43 422.09 L85.24 422.03 L86.05 421.97 L86.86 421.9 L87.67 421.82 L88.48 421.74 L89.29 421.65 L90.1 421.56 L90.91 421.47 L91.72 421.39 L92.53 421.32 L93.34 421.25 L94.15 421.2 L94.96 421.16 L95.77 421.14 L96.58 421.14 L97.39 421.15 L98.2 421.17 L99.01 421.19 L99.82 421.22 L100.63 421.24 L101.43 421.27 L102.24 421.3 L103.05 421.33 L103.86 421.36 L104.67 421.38 L105.48 421.39 L106.29 421.4 L107.1 421.39 L107.91 421.35 L108.72 421.28 L109.53 421.19 L110.34 421.07 L111.15 420.94 L111.96 420.79 L112.77 420.63 L113.58 420.45 L114.39 420.25 L115.2 419.96 L116.01 419.57 L116.82 419.11 L117.63 418.59 L118.44 418.02 L119.25 417.42 L120.06 416.8 L120.87 416.16 L121.68 415.44 L122.49 414.64 L123.3 413.78 L124.11 412.86 L124.92 411.92 L125.73 410.96 L126.54 410 L127.35 409.05 L128.16 408.07 L128.97 407.06 L129.78 406.02 L130.59 404.97 L131.4 403.9 L132.21 402.83 L133.02 401.75 L133.82 400.67 L134.63 399.6 L135.44 398.54 L136.25 397.49 L137.06 396.43 L137.87 395.37 L138.68 394.3 L139.49 393.21 L140.3 392.11 L141.11 390.98 L141.92 389.82 L142.73 388.64 L143.54 387.45 L144.35 386.24 L145.16 385.01 L145.97 383.74 L146.78 382.42 L147.59 381.05 L148.4 379.62 L149.21 378.1 L150.02 376.48 L150.83 374.78 L151.64 373.01 L152.45 371.18 L153.26 369.33 L154.07 367.45 L154.88 365.58 L155.69 363.71 L156.5 361.8 L157.31 359.87 L158.12 357.92 L158.93 355.93 L159.74 353.93 L160.55 351.91 L161.36 349.87 L162.17 347.81 L162.98 345.73 L163.79 343.62 L164.6 341.49 L165.41 339.35 L166.21 337.18 L167.02 335.01 L167.83 332.82 L168.64 330.64 L169.45 328.46 L170.26 326.27 L171.07 324.06 L171.88 321.82 L172.69 319.53 L173.5 317.2 L174.31 314.8 L175.12 312.33 L175.93 309.8 L176.74 307.21 L177.55 304.58 L178.36 301.9 L179.17 299.21 L179.98 296.49 L180.79 293.77 L181.6 290.97 L182.41 288.09 L183.22 285.19 L184.03 282.31 L184.84 279.51 L185.65 276.85 L186.46 274.24 L187.27 271.58 L188.08 268.97 L188.89 266.54 L189.7 264.4 L190.51 262.66 L191.32 261.24 L192.13 259.94 L192.94 258.81 L193.75 257.93 L194.56 257.33 L195.37 256.87 L196.18 256.48 L196.99 256.22 L197.79 256.13 L198.6 256.23 L199.41 256.5 L200.22 256.89 L201.03 257.37 L201.84 257.91 L202.65 258.55 L203.46 259.51 L204.27 260.74 L205.08 262.16 L205.89 263.72 L206.7 265.33 L207.51 266.95 L208.32 268.7 L209.13 270.59 L209.94 272.62 L210.75 274.76 L211.56 277 L212.37 279.34 L213.18 281.74 L213.99 284.21 L214.8 286.83 L215.61 289.61 L216.42 292.51 L217.23 295.52 L218.04 298.6 L218.85 301.73 L219.66 304.89 L220.47 308.08 L221.28 311.36 L222.09 314.73 L222.9 318.17 L223.71 321.66 L224.52 325.18 L225.33 328.71 L226.14 332.33 L226.95 336.03 L227.76 339.77 L228.57 343.48 L229.38 347.13 L230.18 350.66 L230.99 354.08 L231.8 357.43 L232.61 360.72 L233.42 363.94 L234.23 367.12 L235.04 370.23 L235.85 373.3 L236.66 376.4 L237.47 379.47 L238.28 382.46 L239.09 385.31 L239.9 387.97 L240.71 390.39 L241.52 392.68 L242.33 394.85 L243.14 396.92 L243.95 398.85 L244.76 400.65 L245.57 402.31 L246.38 403.86 L247.19 405.36 L248 406.78 L248.81 408.13 L249.62 409.39 L250.43 410.56 L251.24 411.63 L252.05 412.59 L252.86 413.48 L253.67 414.34 L254.48 415.15 L255.29 415.92 L256.1 416.64 L256.91 417.3 L257.72 417.9 L258.53 418.44 L259.34 418.9 L260.15 419.3 L260.96 419.67 L261.76 420.02 L262.57 420.34 L263.38 420.64 L264.19 420.91 L265 421.15 L265.81 421.36 L266.62 421.54 L267.43 421.67 L268.24 421.79 L269.05 421.89 L269.86 421.99 L270.67 422.07 L271.48 422.15 L272.29 422.21 L273.1 422.28 L273.91 422.34 L274.72 422.4 L275.53 422.46 L276.34 422.51 L277.15 422.56 L277.96 422.62 L278.77 422.66 L279.58 422.71 L280.39 422.75 L281.2 422.79 L282.01 422.82 L282.82 422.85" fill="none" stroke="#0072BD" stroke-width="1.25" stroke-linejoin="round" stroke-linecap="round"/>
<rect x="44.4" y="258.5" width="110.35" height="19.25" fill="#fff" stroke="#7d7d7d" stroke-width="0.8"/>
<path d="M45.6 263.7H60.7" stroke="#0072BD" stroke-width="1.2" fill="none"/>
<path d="M45.6 272.5H49.6M53.7 272.5H57.6" stroke="#D95319" stroke-width="1.15" fill="none"/>
<text transform="translate(61.9 266.4) rotate(0.03) scale(1.112 1.000)" font-family="Liberation Sans, sans-serif" font-size="7.3" font-weight="bold" fill="#1a1a1a" text-anchor="start" stroke="#1a1a1a" stroke-width="0.22" stroke-linejoin="round">Kernel density estimate</text>
<text transform="translate(61.9 275.3) rotate(0.03) scale(1.112 1.000)" font-family="Liberation Sans, sans-serif" font-size="7.3" font-weight="bold" fill="#1a1a1a" text-anchor="start" stroke="#1a1a1a" stroke-width="0.22" stroke-linejoin="round">Normal density</text>
<text transform="translate(213.8 264.4) rotate(0.03) scale(1.106 1.000)" font-family="Liberation Sans, sans-serif" font-size="7.3" font-weight="bold" fill="#1a1a1a" text-anchor="start" stroke="#1a1a1a" stroke-width="0.22" stroke-linejoin="round">Kolmogorov-Smirnov</text>
<text transform="translate(213.8 273.2) rotate(0.03) scale(1.106 1.000)" font-family="Liberation Sans, sans-serif" font-size="7.3" font-weight="bold" fill="#1a1a1a" text-anchor="start" stroke="#1a1a1a" stroke-width="0.22" stroke-linejoin="round">p-value = 0.337</text>
<text transform="translate(148 243.9) rotate(0.03) scale(1.055 1.000)" font-family="Liberation Sans, sans-serif" font-size="11.2" font-weight="bold" fill="#1a1a1a" text-anchor="start" stroke="#1a1a1a" stroke-width="0.34" stroke-linejoin="round">RDR</text>
<text transform="translate(173.7 249.5) rotate(0.03) scale(1.056 1.000)" font-family="Liberation Sans, sans-serif" font-size="9.5" font-weight="bold" fill="#1a1a1a" text-anchor="start" stroke="#1a1a1a" stroke-width="0.28" stroke-linejoin="round">col</text>
<text transform="translate(8.6 328.3) rotate(-89.97) scale(1.000 1.065)" font-family="Liberation Sans, sans-serif" font-size="9.6" font-weight="bold" fill="#1a1a1a" text-anchor="middle" stroke="#1a1a1a" stroke-width="0.29" stroke-linejoin="round">Density</text>
<text transform="translate(144.4 445.7) rotate(0.03) scale(1.024 1.000)" font-family="Liberation Sans, sans-serif" font-size="9.8" font-weight="bold" fill="#1a1a1a" text-anchor="start" stroke="#1a1a1a" stroke-width="0.29" stroke-linejoin="round">Residuals</text>
<path d="M374.5 253.5H633V423.2H374.5Z" fill="none" stroke="#b8b8b8" stroke-width="1"/>
<path d="M374.5 423.2v-2.8M374.5 253.5v2.8M439.12 423.2v-2.8M439.12 253.5v2.8M503.75 423.2v-2.8M503.75 253.5v2.8M568.38 423.2v-2.8M568.38 253.5v2.8M633 423.2v-2.8M633 253.5v2.8M374.5 423.2h2.8M633 423.2h-2.8M374.5 401.99h2.8M633 401.99h-2.8M374.5 380.77h2.8M633 380.77h-2.8M374.5 359.56h2.8M633 359.56h-2.8M374.5 338.35h2.8M633 338.35h-2.8M374.5 317.14h2.8M633 317.14h-2.8M374.5 295.93h2.8M633 295.93h-2.8M374.5 274.71h2.8M633 274.71h-2.8M374.5 253.5h2.8M633 253.5h-2.8" fill="none" stroke="#a4a4a4" stroke-width="0.9"/>
<text transform="translate(374.5 434.2) rotate(0.03) scale(1.210 1.000)" font-family="Liberation Sans, sans-serif" font-size="8.4" font-weight="bold" fill="#1a1a1a" text-anchor="middle" stroke="#1a1a1a" stroke-width="0.25" stroke-linejoin="round">-4</text>
<text transform="translate(439.12 434.2) rotate(0.03) scale(1.210 1.000)" font-family="Liberation Sans, sans-serif" font-size="8.4" font-weight="bold" fill="#1a1a1a" text-anchor="middle" stroke="#1a1a1a" stroke-width="0.25" stroke-linejoin="round">-2</text>
<text transform="translate(503.75 434.2) rotate(0.03) scale(1.210 1.000)" font-family="Liberation Sans, sans-serif" font-size="8.4" font-weight="bold" fill="#1a1a1a" text-anchor="middle" stroke="#1a1a1a" stroke-width="0.25" stroke-linejoin="round">0</text>
<text transform="translate(568.38 434.2) rotate(0.03) scale(1.210 1.000)" font-family="Liberation Sans, sans-serif" font-size="8.4" font-weight="bold" fill="#1a1a1a" text-anchor="middle" stroke="#1a1a1a" stroke-width="0.25" stroke-linejoin="round">2</text>
<text transform="translate(633 434.2) rotate(0.03) scale(1.210 1.000)" font-family="Liberation Sans, sans-serif" font-size="8.4" font-weight="bold" fill="#1a1a1a" text-anchor="middle" stroke="#1a1a1a" stroke-width="0.25" stroke-linejoin="round">4</text>
<text transform="translate(371.1 426.8) rotate(0.03) scale(1.210 1.000)" font-family="Liberation Sans, sans-serif" font-size="8.4" font-weight="bold" fill="#1a1a1a" text-anchor="end" stroke="#1a1a1a" stroke-width="0.25" stroke-linejoin="round">0</text>
<text transform="translate(371.1 405.59) rotate(0.03) scale(1.210 1.000)" font-family="Liberation Sans, sans-serif" font-size="8.4" font-weight="bold" fill="#1a1a1a" text-anchor="end" stroke="#1a1a1a" stroke-width="0.25" stroke-linejoin="round">0.05</text>
<text transform="translate(371.1 384.38) rotate(0.03) scale(1.210 1.000)" font-family="Liberation Sans, sans-serif" font-size="8.4" font-weight="bold" fill="#1a1a1a" text-anchor="end" stroke="#1a1a1a" stroke-width="0.25" stroke-linejoin="round">0.1</text>
<text transform="translate(371.1 363.16) rotate(0.03) scale(1.210 1.000)" font-family="Liberation Sans, sans-serif" font-size="8.4" font-weight="bold" fill="#1a1a1a" text-anchor="end" stroke="#1a1a1a" stroke-width="0.25" stroke-linejoin="round">0.15</text>
<text transform="translate(371.1 341.95) rotate(0.03) scale(1.210 1.000)" font-family="Liberation Sans, sans-serif" font-size="8.4" font-weight="bold" fill="#1a1a1a" text-anchor="end" stroke="#1a1a1a" stroke-width="0.25" stroke-linejoin="round">0.2</text>
<text transform="translate(371.1 320.74) rotate(0.03) scale(1.210 1.000)" font-family="Liberation Sans, sans-serif" font-size="8.4" font-weight="bold" fill="#1a1a1a" text-anchor="end" stroke="#1a1a1a" stroke-width="0.25" stroke-linejoin="round">0.25</text>
<text transform="translate(371.1 299.53) rotate(0.03) scale(1.210 1.000)" font-family="Liberation Sans, sans-serif" font-size="8.4" font-weight="bold" fill="#1a1a1a" text-anchor="end" stroke="#1a1a1a" stroke-width="0.25" stroke-linejoin="round">0.3</text>
<text transform="translate(371.1 278.31) rotate(0.03) scale(1.210 1.000)" font-family="Liberation Sans, sans-serif" font-size="8.4" font-weight="bold" fill="#1a1a1a" text-anchor="end" stroke="#1a1a1a" stroke-width="0.25" stroke-linejoin="round">0.35</text>
<text transform="translate(371.1 257.1) rotate(0.03) scale(1.210 1.000)" font-family="Liberation Sans, sans-serif" font-size="8.4" font-weight="bold" fill="#1a1a1a" text-anchor="end" stroke="#1a1a1a" stroke-width="0.25" stroke-linejoin="round">0.4</text>
<path d="M416.51 418.78 L417.3 418.48 L418.1 418.16 L418.89 417.82 L419.69 417.46 L420.48 417.08 L421.28 416.68 L422.08 416.26 L422.87 415.82 L423.67 415.35 L424.46 414.86 L425.26 414.34 L426.05 413.8 L426.85 413.23 L427.65 412.63 L428.44 412.01 L429.24 411.35 L430.03 410.66 L430.83 409.94 L431.62 409.19 L432.42 408.4 L433.21 407.58 L434.01 406.72 L434.81 405.82 L435.6 404.89 L436.4 403.92 L437.19 402.91 L437.99 401.86 L438.78 400.77 L439.58 399.64 L440.38 398.47 L441.17 397.25 L441.97 396 L442.76 394.69 L443.56 393.35 L444.35 391.95 L445.15 390.52 L445.94 389.03 L446.74 387.51 L447.54 385.93 L448.33 384.31 L449.13 382.65 L449.92 380.94 L450.72 379.18 L451.51 377.38 L452.31 375.53 L453.11 373.64 L453.9 371.71 L454.7 369.73 L455.49 367.71 L456.29 365.65 L457.08 363.55 L457.88 361.41 L458.67 359.23 L459.47 357.02 L460.27 354.76 L461.06 352.48 L461.86 350.16 L462.65 347.82 L463.45 345.44 L464.24 343.04 L465.04 340.62 L465.84 338.17 L466.63 335.71 L467.43 333.22 L468.22 330.73 L469.02 328.22 L469.81 325.7 L470.61 323.17 L471.41 320.65 L472.2 318.12 L473 315.6 L473.79 313.08 L474.59 310.57 L475.38 308.07 L476.18 305.59 L476.97 303.13 L477.77 300.69 L478.57 298.28 L479.36 295.9 L480.16 293.55 L480.95 291.24 L481.75 288.97 L482.54 286.74 L483.34 284.56 L484.14 282.43 L484.93 280.35 L485.73 278.33 L486.52 276.37 L487.32 274.48 L488.11 272.65 L488.91 270.89 L489.7 269.21 L490.5 267.6 L491.3 266.06 L492.09 264.61 L492.89 263.25 L493.68 261.97 L494.48 260.77 L495.27 259.67 L496.07 258.66 L496.87 257.75 L497.66 256.93 L498.46 256.2 L499.25 255.58 L500.05 255.06 L500.84 254.63 L501.64 254.31 L502.43 254.09 L503.23 253.97 L504.03 253.95 L504.82 254.04 L505.62 254.23 L506.41 254.52 L507.21 254.92 L508 255.41 L508.8 256 L509.6 256.7 L510.39 257.49 L511.19 258.37 L511.98 259.35 L512.78 260.43 L513.57 261.59 L514.37 262.85 L515.16 264.19 L515.96 265.61 L516.76 267.12 L517.55 268.7 L518.35 270.37 L519.14 272.1 L519.94 273.91 L520.73 275.79 L521.53 277.73 L522.33 279.73 L523.12 281.79 L523.92 283.9 L524.71 286.07 L525.51 288.28 L526.3 290.54 L527.1 292.84 L527.9 295.18 L528.69 297.55 L529.49 299.95 L530.28 302.38 L531.08 304.84 L531.87 307.31 L532.67 309.8 L533.46 312.31 L534.26 314.82 L535.06 317.35 L535.85 319.87 L536.65 322.4 L537.44 324.93 L538.24 327.45 L539.03 329.96 L539.83 332.46 L540.63 334.95 L541.42 337.42 L542.22 339.87 L543.01 342.3 L543.81 344.71 L544.6 347.09 L545.4 349.45 L546.19 351.77 L546.99 354.07 L547.79 356.33 L548.58 358.56 L549.38 360.75 L550.17 362.9 L550.97 365.01 L551.76 367.09 L552.56 369.12 L553.36 371.11 L554.15 373.06 L554.95 374.96 L555.74 376.82 L556.54 378.64 L557.33 380.41 L558.13 382.13 L558.92 383.81 L559.72 385.44 L560.52 387.03 L561.31 388.57 L562.11 390.07 L562.9 391.52 L563.7 392.92 L564.49 394.28 L565.29 395.6 L566.09 396.87 L566.88 398.1 L567.68 399.29 L568.47 400.43 L569.27 401.53 L570.06 402.6 L570.86 403.62 L571.65 404.6 L572.45 405.54 L573.25 406.45 L574.04 407.32 L574.84 408.15" fill="none" stroke="#D95319" stroke-width="1.15" stroke-dasharray="4.1 2.1"/>
<path d="M384.84 423.2 L385.7 423.2 L386.57 423.19 L387.43 423.17 L388.3 423.15 L389.16 423.13 L390.03 423.1 L390.89 423.07 L391.76 423.03 L392.62 423 L393.49 422.96 L394.35 422.92 L395.21 422.88 L396.08 422.82 L396.94 422.76 L397.81 422.68 L398.67 422.6 L399.54 422.5 L400.4 422.37 L401.27 422.21 L402.13 422.01 L403 421.78 L403.86 421.53 L404.73 421.26 L405.59 420.98 L406.45 420.69 L407.32 420.39 L408.18 420.04 L409.05 419.65 L409.91 419.23 L410.78 418.79 L411.64 418.35 L412.51 417.92 L413.37 417.49 L414.24 417.05 L415.1 416.62 L415.96 416.17 L416.83 415.71 L417.69 415.25 L418.56 414.76 L419.42 414.26 L420.29 413.75 L421.15 413.24 L422.02 412.71 L422.88 412.17 L423.75 411.58 L424.61 410.95 L425.48 410.25 L426.34 409.48 L427.2 408.6 L428.07 407.64 L428.93 406.6 L429.8 405.48 L430.66 404.31 L431.53 403.09 L432.39 401.83 L433.26 400.54 L434.12 399.2 L434.99 397.76 L435.85 396.25 L436.71 394.66 L437.58 393 L438.44 391.29 L439.31 389.53 L440.17 387.7 L441.04 385.76 L441.9 383.71 L442.77 381.6 L443.63 379.44 L444.5 377.28 L445.36 375.13 L446.23 373.04 L447.09 370.91 L447.95 368.74 L448.82 366.57 L449.68 364.42 L450.55 362.33 L451.41 360.35 L452.28 358.49 L453.14 356.76 L454.01 355.11 L454.87 353.52 L455.74 352 L456.6 350.52 L457.46 349.08 L458.33 347.66 L459.19 346.26 L460.06 344.9 L460.92 343.59 L461.79 342.3 L462.65 341.03 L463.52 339.77 L464.38 338.51 L465.25 337.3 L466.11 336.1 L466.97 334.92 L467.84 333.72 L468.7 332.5 L469.57 331.22 L470.43 329.87 L471.3 328.46 L472.16 327.01 L473.03 325.52 L473.89 323.97 L474.76 322.37 L475.62 320.7 L476.49 318.96 L477.35 317.13 L478.21 315.17 L479.08 313.09 L479.94 310.95 L480.81 308.77 L481.67 306.59 L482.54 304.43 L483.4 302.33 L484.27 300.21 L485.13 298.05 L486 295.9 L486.86 293.77 L487.72 291.7 L488.59 289.71 L489.45 287.83 L490.32 286.02 L491.18 284.25 L492.05 282.53 L492.91 280.87 L493.78 279.29 L494.64 277.8 L495.51 276.42 L496.37 275.07 L497.24 273.74 L498.1 272.48 L498.96 271.35 L499.83 270.41 L500.69 269.71 L501.56 269.11 L502.42 268.54 L503.29 268.06 L504.15 267.71 L505.02 267.52 L505.88 267.52 L506.75 267.63 L507.61 267.83 L508.47 268.11 L509.34 268.45 L510.2 268.84 L511.07 269.26 L511.93 269.72 L512.8 270.37 L513.66 271.28 L514.53 272.37 L515.39 273.59 L516.26 274.89 L517.12 276.2 L517.98 277.48 L518.85 278.71 L519.71 279.99 L520.58 281.31 L521.44 282.67 L522.31 284.07 L523.17 285.52 L524.04 287 L524.9 288.53 L525.77 290.12 L526.63 291.77 L527.5 293.47 L528.36 295.22 L529.22 297.01 L530.09 298.85 L530.95 300.73 L531.82 302.66 L532.68 304.67 L533.55 306.74 L534.41 308.85 L535.28 310.99 L536.14 313.15 L537.01 315.32 L537.87 317.49 L538.73 319.68 L539.6 321.89 L540.46 324.13 L541.33 326.38 L542.19 328.66 L543.06 330.97 L543.92 333.3 L544.79 335.67 L545.65 338.08 L546.52 340.52 L547.38 342.97 L548.25 345.43 L549.11 347.89 L549.97 350.34 L550.84 352.78 L551.7 355.24 L552.57 357.71 L553.43 360.17 L554.3 362.62 L555.16 365.03 L556.03 367.41 L556.89 369.74 L557.76 372.05 L558.62 374.34 L559.48 376.6 L560.35 378.83 L561.21 381.02 L562.08 383.16 L562.94 385.24 L563.81 387.3 L564.67 389.34 L565.54 391.35 L566.4 393.31 L567.27 395.2 L568.13 397.01 L569 398.71 L569.86 400.32 L570.72 401.88 L571.59 403.38 L572.45 404.83 L573.32 406.2 L574.18 407.49 L575.05 408.68 L575.91 409.78 L576.78 410.84 L577.64 411.85 L578.51 412.83 L579.37 413.75 L580.23 414.62 L581.1 415.42 L581.96 416.15 L582.83 416.81 L583.69 417.39 L584.56 417.93 L585.42 418.44 L586.29 418.92 L587.15 419.37 L588.02 419.78 L588.88 420.16 L589.74 420.49 L590.61 420.79 L591.47 421.05 L592.34 421.3 L593.2 421.54 L594.07 421.76 L594.93 421.97 L595.8 422.16 L596.66 422.34 L597.53 422.49 L598.39 422.62 L599.26 422.72 L600.12 422.79 L600.98 422.86 L601.85 422.92 L602.71 422.98 L603.58 423.03 L604.44 423.08 L605.31 423.12 L606.17 423.15 L607.04 423.18 L607.9 423.19 L608.77 423.2" fill="none" stroke="#0072BD" stroke-width="1.25" stroke-linejoin="round" stroke-linecap="round"/>
<rect x="519.7" y="254.1" width="113" height="16.7" fill="#fff" stroke="#7d7d7d" stroke-width="0.8"/>
<path d="M521.7 258.9H537.8" stroke="#0072BD" stroke-width="1.2" fill="none"/>
<path d="M521.7 266.75H526M529.9 266.75H533.9" stroke="#D95319" stroke-width="1.15" fill="none"/>
<text transform="translate(539.5 261.5) rotate(0.03) scale(1.116 1.000)" font-family="Liberation Sans, sans-serif" font-size="7.3" font-weight="bold" fill="#1a1a1a" text-anchor="start" stroke="#1a1a1a" stroke-width="0.22" stroke-linejoin="round">Kernel density estimate</text>
<text transform="translate(539.5 269.4) rotate(0.03) scale(1.116 1.000)" font-family="Liberation Sans, sans-serif" font-size="7.3" font-weight="bold" fill="#1a1a1a" text-anchor="start" stroke="#1a1a1a" stroke-width="0.22" stroke-linejoin="round">Normal density</text>
<text transform="translate(388 264.7) rotate(0.03) scale(1.148 1.000)" font-family="Liberation Sans, sans-serif" font-size="7.3" font-weight="bold" fill="#1a1a1a" text-anchor="start" stroke="#1a1a1a" stroke-width="0.22" stroke-linejoin="round">Kolmogorov-Smirnov</text>
<text transform="translate(388 273.2) rotate(0.03) scale(1.148 1.000)" font-family="Liberation Sans, sans-serif" font-size="7.3" font-weight="bold" fill="#1a1a1a" text-anchor="start" stroke="#1a1a1a" stroke-width="0.22" stroke-linejoin="round">p-value = 0.776</text>
<text transform="translate(474.5 244.7) rotate(0.03) scale(1.120 1.000)" font-family="Liberation Sans, sans-serif" font-size="10.8" font-weight="bold" fill="#1a1a1a" text-anchor="start" stroke="#1a1a1a" stroke-width="0.32" stroke-linejoin="round">E</text>
<text transform="translate(483 250.4) rotate(0.03) scale(1.192 1.000)" font-family="Liberation Sans, sans-serif" font-size="8.8" font-weight="bold" fill="#1a1a1a" text-anchor="start" stroke="#1a1a1a" stroke-width="0.26" stroke-linejoin="round">h column</text>
<text transform="translate(347.1 338.4) rotate(-89.97) scale(1.000 1.160)" font-family="Liberation Sans, sans-serif" font-size="9.5" font-weight="bold" fill="#1a1a1a" text-anchor="middle" stroke="#1a1a1a" stroke-width="0.28" stroke-linejoin="round">Density</text>
<text transform="translate(478.1 445.6) rotate(0.03) scale(1.102 1.000)" font-family="Liberation Sans, sans-serif" font-size="9.8" font-weight="bold" fill="#1a1a1a" text-anchor="start" stroke="#1a1a1a" stroke-width="0.29" stroke-linejoin="round">Residuals</text>
<path d="M41.5 479.5H302V650.8H41.5Z" fill="none" stroke="#b8b8b8" stroke-width="1"/>
<path d="M41.5 650.8v-2.8M41.5 479.5v2.8M74.06 650.8v-2.8M74.06 479.5v2.8M106.62 650.8v-2.8M106.62 479.5v2.8M139.19 650.8v-2.8M139.19 479.5v2.8M171.75 650.8v-2.8M171.75 479.5v2.8M204.31 650.8v-2.8M204.31 479.5v2.8M236.88 650.8v-2.8M236.88 479.5v2.8M269.44 650.8v-2.8M269.44 479.5v2.8M302 650.8v-2.8M302 479.5v2.8M41.5 650.8h2.8M302 650.8h-2.8M41.5 629.39h2.8M302 629.39h-2.8M41.5 607.97h2.8M302 607.97h-2.8M41.5 586.56h2.8M302 586.56h-2.8M41.5 565.15h2.8M302 565.15h-2.8M41.5 543.74h2.8M302 543.74h-2.8M41.5 522.33h2.8M302 522.33h-2.8M41.5 500.91h2.8M302 500.91h-2.8M41.5 479.5h2.8M302 479.5h-2.8" fill="none" stroke="#a4a4a4" stroke-width="0.9"/>
<text transform="translate(41.5 661.8) rotate(0.03) scale(1.140 1.000)" font-family="Liberation Sans, sans-serif" font-size="8.4" font-weight="bold" fill="#1a1a1a" text-anchor="middle" stroke="#1a1a1a" stroke-width="0.25" stroke-linejoin="round">-4</text>
<text transform="translate(74.06 661.8) rotate(0.03) scale(1.140 1.000)" font-family="Liberation Sans, sans-serif" font-size="8.4" font-weight="bold" fill="#1a1a1a" text-anchor="middle" stroke="#1a1a1a" stroke-width="0.25" stroke-linejoin="round">-3</text>
<text transform="translate(106.62 661.8) rotate(0.03) scale(1.140 1.000)" font-family="Liberation Sans, sans-serif" font-size="8.4" font-weight="bold" fill="#1a1a1a" text-anchor="middle" stroke="#1a1a1a" stroke-width="0.25" stroke-linejoin="round">-2</text>
<text transform="translate(139.19 661.8) rotate(0.03) scale(1.140 1.000)" font-family="Liberation Sans, sans-serif" font-size="8.4" font-weight="bold" fill="#1a1a1a" text-anchor="middle" stroke="#1a1a1a" stroke-width="0.25" stroke-linejoin="round">-1</text>
<text transform="translate(171.75 661.8) rotate(0.03) scale(1.140 1.000)" font-family="Liberation Sans, sans-serif" font-size="8.4" font-weight="bold" fill="#1a1a1a" text-anchor="middle" stroke="#1a1a1a" stroke-width="0.25" stroke-linejoin="round">0</text>
<text transform="translate(204.31 661.8) rotate(0.03) scale(1.140 1.000)" font-family="Liberation Sans, sans-serif" font-size="8.4" font-weight="bold" fill="#1a1a1a" text-anchor="middle" stroke="#1a1a1a" stroke-width="0.25" stroke-linejoin="round">1</text>
<text transform="translate(236.88 661.8) rotate(0.03) scale(1.140 1.000)" font-family="Liberation Sans, sans-serif" font-size="8.4" font-weight="bold" fill="#1a1a1a" text-anchor="middle" stroke="#1a1a1a" stroke-width="0.25" stroke-linejoin="round">2</text>
<text transform="translate(269.44 661.8) rotate(0.03) scale(1.140 1.000)" font-family="Liberation Sans, sans-serif" font-size="8.4" font-weight="bold" fill="#1a1a1a" text-anchor="middle" stroke="#1a1a1a" stroke-width="0.25" stroke-linejoin="round">3</text>
<text transform="translate(302 661.8) rotate(0.03) scale(1.140 1.000)" font-family="Liberation Sans, sans-serif" font-size="8.4" font-weight="bold" fill="#1a1a1a" text-anchor="middle" stroke="#1a1a1a" stroke-width="0.25" stroke-linejoin="round">4</text>
<text transform="translate(38.4 654.8) rotate(0.03) scale(1.140 1.000)" font-family="Liberation Sans, sans-serif" font-size="8.4" font-weight="bold" fill="#1a1a1a" text-anchor="end" stroke="#1a1a1a" stroke-width="0.25" stroke-linejoin="round">0</text>
<text transform="translate(38.4 633.39) rotate(0.03) scale(1.140 1.000)" font-family="Liberation Sans, sans-serif" font-size="8.4" font-weight="bold" fill="#1a1a1a" text-anchor="end" stroke="#1a1a1a" stroke-width="0.25" stroke-linejoin="round">0.05</text>
<text transform="translate(38.4 611.97) rotate(0.03) scale(1.140 1.000)" font-family="Liberation Sans, sans-serif" font-size="8.4" font-weight="bold" fill="#1a1a1a" text-anchor="end" stroke="#1a1a1a" stroke-width="0.25" stroke-linejoin="round">0.1</text>
<text transform="translate(38.4 590.56) rotate(0.03) scale(1.140 1.000)" font-family="Liberation Sans, sans-serif" font-size="8.4" font-weight="bold" fill="#1a1a1a" text-anchor="end" stroke="#1a1a1a" stroke-width="0.25" stroke-linejoin="round">0.15</text>
<text transform="translate(38.4 569.15) rotate(0.03) scale(1.140 1.000)" font-family="Liberation Sans, sans-serif" font-size="8.4" font-weight="bold" fill="#1a1a1a" text-anchor="end" stroke="#1a1a1a" stroke-width="0.25" stroke-linejoin="round">0.2</text>
<text transform="translate(38.4 547.74) rotate(0.03) scale(1.140 1.000)" font-family="Liberation Sans, sans-serif" font-size="8.4" font-weight="bold" fill="#1a1a1a" text-anchor="end" stroke="#1a1a1a" stroke-width="0.25" stroke-linejoin="round">0.25</text>
<text transform="translate(38.4 526.33) rotate(0.03) scale(1.140 1.000)" font-family="Liberation Sans, sans-serif" font-size="8.4" font-weight="bold" fill="#1a1a1a" text-anchor="end" stroke="#1a1a1a" stroke-width="0.25" stroke-linejoin="round">0.3</text>
<text transform="translate(38.4 504.91) rotate(0.03) scale(1.140 1.000)" font-family="Liberation Sans, sans-serif" font-size="8.4" font-weight="bold" fill="#1a1a1a" text-anchor="end" stroke="#1a1a1a" stroke-width="0.25" stroke-linejoin="round">0.35</text>
<text transform="translate(38.4 483.5) rotate(0.03) scale(1.140 1.000)" font-family="Liberation Sans, sans-serif" font-size="8.4" font-weight="bold" fill="#1a1a1a" text-anchor="end" stroke="#1a1a1a" stroke-width="0.25" stroke-linejoin="round">0.4</text>
<path d="M74.39 648.66 L75.33 648.47 L76.28 648.27 L77.22 648.04 L78.16 647.81 L79.11 647.55 L80.05 647.28 L81 646.98 L81.94 646.66 L82.89 646.33 L83.83 645.96 L84.77 645.58 L85.72 645.16 L86.66 644.72 L87.61 644.25 L88.55 643.75 L89.49 643.22 L90.44 642.65 L91.38 642.05 L92.33 641.42 L93.27 640.74 L94.22 640.03 L95.16 639.27 L96.1 638.48 L97.05 637.63 L97.99 636.75 L98.94 635.81 L99.88 634.83 L100.82 633.79 L101.77 632.71 L102.71 631.57 L103.66 630.38 L104.6 629.13 L105.55 627.82 L106.49 626.46 L107.43 625.04 L108.38 623.55 L109.32 622.01 L110.27 620.4 L111.21 618.73 L112.15 617 L113.1 615.21 L114.04 613.35 L114.99 611.42 L115.93 609.43 L116.87 607.38 L117.82 605.27 L118.76 603.09 L119.71 600.85 L120.65 598.55 L121.6 596.18 L122.54 593.76 L123.48 591.28 L124.43 588.75 L125.37 586.16 L126.32 583.53 L127.26 580.84 L128.2 578.11 L129.15 575.33 L130.09 572.51 L131.04 569.66 L131.98 566.77 L132.93 563.85 L133.87 560.91 L134.81 557.95 L135.76 554.97 L136.7 551.97 L137.65 548.97 L138.59 545.97 L139.53 542.97 L140.48 539.97 L141.42 536.99 L142.37 534.02 L143.31 531.08 L144.26 528.17 L145.2 525.29 L146.14 522.46 L147.09 519.67 L148.03 516.93 L148.98 514.25 L149.92 511.63 L150.86 509.08 L151.81 506.6 L152.75 504.21 L153.7 501.9 L154.64 499.68 L155.58 497.56 L156.53 495.54 L157.47 493.63 L158.42 491.82 L159.36 490.13 L160.31 488.56 L161.25 487.11 L162.19 485.78 L163.14 484.59 L164.08 483.52 L165.03 482.59 L165.97 481.8 L166.91 481.15 L167.86 480.64 L168.8 480.27 L169.75 480.04 L170.69 479.95 L171.64 480.01 L172.58 480.22 L173.52 480.56 L174.47 481.05 L175.41 481.68 L176.36 482.45 L177.3 483.35 L178.24 484.39 L179.19 485.56 L180.13 486.87 L181.08 488.3 L182.02 489.85 L182.97 491.52 L183.91 493.3 L184.85 495.2 L185.8 497.2 L186.74 499.31 L187.69 501.51 L188.63 503.8 L189.57 506.18 L190.52 508.64 L191.46 511.18 L192.41 513.79 L193.35 516.46 L194.3 519.19 L195.24 521.97 L196.18 524.8 L197.13 527.67 L198.07 530.58 L199.02 533.51 L199.96 536.47 L200.9 539.45 L201.85 542.45 L202.79 545.45 L203.74 548.45 L204.68 551.45 L205.62 554.45 L206.57 557.43 L207.51 560.4 L208.46 563.35 L209.4 566.27 L210.35 569.16 L211.29 572.02 L212.23 574.84 L213.18 577.63 L214.12 580.37 L215.07 583.06 L216.01 585.71 L216.95 588.31 L217.9 590.85 L218.84 593.34 L219.79 595.77 L220.73 598.14 L221.68 600.45 L222.62 602.7 L223.56 604.89 L224.51 607.02 L225.45 609.08 L226.4 611.08 L227.34 613.02 L228.28 614.89 L229.23 616.7 L230.17 618.44 L231.12 620.12 L232.06 621.74 L233.01 623.29 L233.95 624.78 L234.89 626.22 L235.84 627.59 L236.78 628.91 L237.73 630.17 L238.67 631.37 L239.61 632.52 L240.56 633.61 L241.5 634.65 L242.45 635.64 L243.39 636.59 L244.33 637.48 L245.28 638.33 L246.22 639.14 L247.17 639.9 L248.11 640.62 L249.06 641.3 L250 641.95 L250.94 642.55 L251.89 643.12 L252.83 643.66 L253.78 644.17 L254.72 644.64 L255.66 645.09 L256.61 645.51 L257.55 645.9 L258.5 646.26 L259.44 646.61 L260.39 646.93 L261.33 647.23 L262.27 647.5" fill="none" stroke="#D95319" stroke-width="1.15" stroke-dasharray="4.1 2.1"/>
<path d="M43.45 650.8 L44.42 650.79 L45.39 650.78 L46.37 650.75 L47.34 650.72 L48.31 650.67 L49.28 650.62 L50.25 650.56 L51.22 650.49 L52.19 650.42 L53.16 650.34 L54.13 650.25 L55.1 650.16 L56.07 650.07 L57.04 649.97 L58.01 649.82 L58.98 649.64 L59.95 649.43 L60.92 649.18 L61.89 648.92 L62.87 648.63 L63.84 648.33 L64.81 648.02 L65.78 647.71 L66.75 647.4 L67.72 647.07 L68.69 646.72 L69.66 646.33 L70.63 645.93 L71.6 645.51 L72.57 645.08 L73.54 644.64 L74.51 644.2 L75.48 643.76 L76.45 643.33 L77.42 642.9 L78.39 642.47 L79.37 642.03 L80.34 641.59 L81.31 641.14 L82.28 640.69 L83.25 640.24 L84.22 639.8 L85.19 639.36 L86.16 638.92 L87.13 638.49 L88.1 638.08 L89.07 637.68 L90.04 637.29 L91.01 636.91 L91.98 636.52 L92.95 636.12 L93.92 635.71 L94.89 635.28 L95.87 634.82 L96.84 634.34 L97.81 633.84 L98.78 633.31 L99.75 632.77 L100.72 632.19 L101.69 631.57 L102.66 630.91 L103.63 630.2 L104.6 629.42 L105.57 628.56 L106.54 627.62 L107.51 626.61 L108.48 625.54 L109.45 624.41 L110.42 623.23 L111.39 622 L112.37 620.71 L113.34 619.32 L114.31 617.83 L115.28 616.25 L116.25 614.58 L117.22 612.82 L118.19 610.97 L119.16 608.96 L120.13 606.8 L121.1 604.51 L122.07 602.12 L123.04 599.64 L124.01 597.1 L124.98 594.49 L125.95 591.75 L126.92 588.88 L127.89 585.94 L128.87 582.93 L129.84 579.9 L130.81 576.87 L131.78 573.8 L132.75 570.65 L133.72 567.46 L134.69 564.26 L135.66 561.08 L136.63 557.97 L137.6 554.94 L138.57 551.98 L139.54 549.05 L140.51 546.16 L141.48 543.27 L142.45 540.39 L143.42 537.5 L144.39 534.58 L145.37 531.66 L146.34 528.73 L147.31 525.81 L148.28 522.92 L149.25 520.05 L150.22 517.21 L151.19 514.32 L152.16 511.41 L153.13 508.52 L154.1 505.73 L155.07 503.07 L156.04 500.63 L157.01 498.37 L157.98 496.18 L158.95 494.09 L159.92 492.12 L160.89 490.29 L161.87 488.64 L162.84 487.18 L163.81 485.85 L164.78 484.61 L165.75 483.49 L166.72 482.52 L167.69 481.74 L168.66 481.1 L169.63 480.49 L170.6 480.06 L171.57 479.93 L172.54 480 L173.51 480.16 L174.48 480.4 L175.45 480.7 L176.42 481.06 L177.4 481.45 L178.37 481.91 L179.34 482.62 L180.31 483.55 L181.28 484.66 L182.25 485.91 L183.22 487.25 L184.19 488.62 L185.16 490.1 L186.13 491.8 L187.1 493.67 L188.07 495.69 L189.04 497.81 L190.01 500.02 L190.98 502.29 L191.95 504.67 L192.92 507.2 L193.9 509.87 L194.87 512.67 L195.84 515.59 L196.81 518.63 L197.78 521.83 L198.75 525.28 L199.72 528.93 L200.69 532.72 L201.66 536.58 L202.63 540.5 L203.6 544.62 L204.57 548.87 L205.54 553.15 L206.51 557.37 L207.48 561.43 L208.45 565.39 L209.42 569.29 L210.4 573.13 L211.37 576.89 L212.34 580.56 L213.31 584.18 L214.28 587.8 L215.25 591.32 L216.22 594.68 L217.19 597.79 L218.16 600.62 L219.13 603.32 L220.1 605.87 L221.07 608.23 L222.04 610.36 L223.01 612.24 L223.98 613.96 L224.95 615.56 L225.92 617.01 L226.9 618.29 L227.87 619.39 L228.84 620.35 L229.81 621.21 L230.78 621.99 L231.75 622.72 L232.72 623.4 L233.69 624.07 L234.66 624.72 L235.63 625.33 L236.6 625.9 L237.57 626.45 L238.54 627 L239.51 627.58 L240.48 628.2 L241.45 628.89 L242.42 629.63 L243.4 630.41 L244.37 631.21 L245.34 632.02 L246.31 632.83 L247.28 633.62 L248.25 634.44 L249.22 635.27 L250.19 636.1 L251.16 636.94 L252.13 637.76 L253.1 638.56 L254.07 639.33 L255.04 640.06 L256.01 640.77 L256.98 641.47 L257.95 642.16 L258.92 642.83 L259.9 643.46 L260.87 644.06 L261.84 644.62 L262.81 645.13 L263.78 645.63 L264.75 646.1 L265.72 646.55 L266.69 646.98 L267.66 647.38 L268.63 647.75 L269.6 648.08 L270.57 648.38 L271.54 648.67 L272.51 648.96 L273.48 649.23 L274.45 649.49 L275.42 649.72 L276.4 649.93 L277.37 650.09 L278.34 650.22 L279.31 650.3 L280.28 650.37 L281.25 650.43 L282.22 650.48 L283.19 650.52 L284.16 650.56 L285.13 650.6 L286.1 650.63 L287.07 650.66 L288.04 650.69 L289.01 650.71 L289.98 650.73 L290.95 650.75 L291.92 650.77 L292.9 650.78 L293.87 650.79 L294.84 650.8" fill="none" stroke="#0072BD" stroke-width="1.25" stroke-linejoin="round" stroke-linecap="round"/>
<rect x="192.9" y="480.25" width="107.6" height="18.95" fill="#fff" stroke="#7d7d7d" stroke-width="0.8"/>
<path d="M195 485.5H209.4" stroke="#0072BD" stroke-width="1.2" fill="none"/>
<path d="M195 493.9H198.9M202.9 493.9H206.5" stroke="#D95319" stroke-width="1.15" fill="none"/>
<text transform="translate(211.1 488.1) rotate(0.03) scale(1.069 1.000)" font-family="Liberation Sans, sans-serif" font-size="7.3" font-weight="bold" fill="#1a1a1a" text-anchor="start" stroke="#1a1a1a" stroke-width="0.22" stroke-linejoin="round">Kernel density estimate</text>
<text transform="translate(211.1 496.55) rotate(0.03) scale(1.069 1.000)" font-family="Liberation Sans, sans-serif" font-size="7.3" font-weight="bold" fill="#1a1a1a" text-anchor="start" stroke="#1a1a1a" stroke-width="0.22" stroke-linejoin="round">Normal density</text>
<text transform="translate(54.05 494.85) rotate(0.03) scale(1.063 1.000)" font-family="Liberation Sans, sans-serif" font-size="7.3" font-weight="bold" fill="#1a1a1a" text-anchor="start" stroke="#1a1a1a" stroke-width="0.22" stroke-linejoin="round">Kolmogorov-Smirnov</text>
<text transform="translate(54.05 503.6) rotate(0.03) scale(1.063 1.000)" font-family="Liberation Sans, sans-serif" font-size="7.3" font-weight="bold" fill="#1a1a1a" text-anchor="start" stroke="#1a1a1a" stroke-width="0.22" stroke-linejoin="round">p-value = 0.422</text>
<text transform="translate(152.5 472.6) rotate(0.03) scale(1.063 1.000)" font-family="Liberation Sans, sans-serif" font-size="11.2" font-weight="bold" fill="#1a1a1a" text-anchor="start" stroke="#1a1a1a" stroke-width="0.34" stroke-linejoin="round">RDR</text>
<text transform="translate(177.7 478.7) rotate(0.03) scale(1.013 1.000)" font-family="Liberation Sans, sans-serif" font-size="9.5" font-weight="bold" fill="#1a1a1a" text-anchor="start" stroke="#1a1a1a" stroke-width="0.28" stroke-linejoin="round">col</text>
<text transform="translate(14.6 561.6) rotate(-89.97) scale(1.000 1.090)" font-family="Liberation Sans, sans-serif" font-size="9.35" font-weight="bold" fill="#1a1a1a" text-anchor="middle" stroke="#1a1a1a" stroke-width="0.28" stroke-linejoin="round">Density</text>
<text transform="translate(149.25 673.5) rotate(0.03) scale(0.987 1.000)" font-family="Liberation Sans, sans-serif" font-size="9.8" font-weight="bold" fill="#1a1a1a" text-anchor="start" stroke="#1a1a1a" stroke-width="0.29" stroke-linejoin="round">Residuals</text>
<path d="M386.5 483.5H643.5V654.3H386.5Z" fill="none" stroke="#b8b8b8" stroke-width="1"/>
<path d="M386.5 654.3v-2.8M386.5 483.5v2.8M515 654.3v-2.8M515 483.5v2.8M643.5 654.3v-2.8M643.5 483.5v2.8M386.5 654.3h2.8M643.5 654.3h-2.8M386.5 632.95h2.8M643.5 632.95h-2.8M386.5 611.6h2.8M643.5 611.6h-2.8M386.5 590.25h2.8M643.5 590.25h-2.8M386.5 568.9h2.8M643.5 568.9h-2.8M386.5 547.55h2.8M643.5 547.55h-2.8M386.5 526.2h2.8M643.5 526.2h-2.8M386.5 504.85h2.8M643.5 504.85h-2.8M386.5 483.5h2.8M643.5 483.5h-2.8" fill="none" stroke="#a4a4a4" stroke-width="0.9"/>
<text transform="translate(386.5 665.3) rotate(0.03) scale(1.180 1.000)" font-family="Liberation Sans, sans-serif" font-size="8.4" font-weight="bold" fill="#1a1a1a" text-anchor="middle" stroke="#1a1a1a" stroke-width="0.25" stroke-linejoin="round">-5</text>
<text transform="translate(515 665.3) rotate(0.03) scale(1.180 1.000)" font-family="Liberation Sans, sans-serif" font-size="8.4" font-weight="bold" fill="#1a1a1a" text-anchor="middle" stroke="#1a1a1a" stroke-width="0.25" stroke-linejoin="round">0</text>
<text transform="translate(643.5 665.3) rotate(0.03) scale(1.180 1.000)" font-family="Liberation Sans, sans-serif" font-size="8.4" font-weight="bold" fill="#1a1a1a" text-anchor="middle" stroke="#1a1a1a" stroke-width="0.25" stroke-linejoin="round">5</text>
<text transform="translate(383.2 657.6) rotate(0.03) scale(1.180 1.000)" font-family="Liberation Sans, sans-serif" font-size="8.4" font-weight="bold" fill="#1a1a1a" text-anchor="end" stroke="#1a1a1a" stroke-width="0.25" stroke-linejoin="round">0</text>
<text transform="translate(383.2 636.25) rotate(0.03) scale(1.180 1.000)" font-family="Liberation Sans, sans-serif" font-size="8.4" font-weight="bold" fill="#1a1a1a" text-anchor="end" stroke="#1a1a1a" stroke-width="0.25" stroke-linejoin="round">0.05</text>
<text transform="translate(383.2 614.9) rotate(0.03) scale(1.180 1.000)" font-family="Liberation Sans, sans-serif" font-size="8.4" font-weight="bold" fill="#1a1a1a" text-anchor="end" stroke="#1a1a1a" stroke-width="0.25" stroke-linejoin="round">0.1</text>
<text transform="translate(383.2 593.55) rotate(0.03) scale(1.180 1.000)" font-family="Liberation Sans, sans-serif" font-size="8.4" font-weight="bold" fill="#1a1a1a" text-anchor="end" stroke="#1a1a1a" stroke-width="0.25" stroke-linejoin="round">0.15</text>
<text transform="translate(383.2 572.2) rotate(0.03) scale(1.180 1.000)" font-family="Liberation Sans, sans-serif" font-size="8.4" font-weight="bold" fill="#1a1a1a" text-anchor="end" stroke="#1a1a1a" stroke-width="0.25" stroke-linejoin="round">0.2</text>
<text transform="translate(383.2 550.85) rotate(0.03) scale(1.180 1.000)" font-family="Liberation Sans, sans-serif" font-size="8.4" font-weight="bold" fill="#1a1a1a" text-anchor="end" stroke="#1a1a1a" stroke-width="0.25" stroke-linejoin="round">0.25</text>
<text transform="translate(383.2 529.5) rotate(0.03) scale(1.180 1.000)" font-family="Liberation Sans, sans-serif" font-size="8.4" font-weight="bold" fill="#1a1a1a" text-anchor="end" stroke="#1a1a1a" stroke-width="0.25" stroke-linejoin="round">0.3</text>
<text transform="translate(383.2 508.15) rotate(0.03) scale(1.180 1.000)" font-family="Liberation Sans, sans-serif" font-size="8.4" font-weight="bold" fill="#1a1a1a" text-anchor="end" stroke="#1a1a1a" stroke-width="0.25" stroke-linejoin="round">0.35</text>
<text transform="translate(383.2 486.8) rotate(0.03) scale(1.180 1.000)" font-family="Liberation Sans, sans-serif" font-size="8.4" font-weight="bold" fill="#1a1a1a" text-anchor="end" stroke="#1a1a1a" stroke-width="0.25" stroke-linejoin="round">0.4</text>
<path d="M437.9 652.1 L438.72 651.89 L439.54 651.65 L440.36 651.4 L441.18 651.13 L442 650.83 L442.82 650.51 L443.64 650.16 L444.46 649.79 L445.28 649.38 L446.1 648.95 L446.92 648.48 L447.74 647.99 L448.56 647.45 L449.38 646.88 L450.2 646.26 L451.02 645.61 L451.84 644.91 L452.66 644.16 L453.48 643.37 L454.3 642.53 L455.12 641.63 L455.94 640.69 L456.76 639.68 L457.58 638.62 L458.4 637.49 L459.22 636.31 L460.04 635.06 L460.86 633.74 L461.68 632.36 L462.5 630.91 L463.32 629.39 L464.14 627.79 L464.96 626.12 L465.78 624.38 L466.6 622.56 L467.42 620.66 L468.24 618.69 L469.06 616.64 L469.88 614.52 L470.7 612.31 L471.52 610.03 L472.34 607.68 L473.16 605.24 L473.98 602.74 L474.8 600.16 L475.62 597.51 L476.44 594.78 L477.26 592 L478.08 589.15 L478.9 586.23 L479.72 583.26 L480.54 580.24 L481.36 577.16 L482.18 574.04 L483 570.88 L483.82 567.68 L484.64 564.45 L485.46 561.2 L486.28 557.93 L487.1 554.64 L487.92 551.34 L488.74 548.05 L489.56 544.76 L490.38 541.48 L491.2 538.22 L492.02 534.99 L492.85 531.8 L493.67 528.65 L494.49 525.54 L495.31 522.5 L496.13 519.52 L496.95 516.62 L497.77 513.79 L498.59 511.05 L499.41 508.41 L500.23 505.87 L501.05 503.44 L501.87 501.13 L502.69 498.94 L503.51 496.88 L504.33 494.95 L505.15 493.16 L505.97 491.52 L506.79 490.03 L507.61 488.7 L508.43 487.52 L509.25 486.51 L510.07 485.66 L510.89 484.98 L511.71 484.47 L512.53 484.13 L513.35 483.97 L514.17 483.98 L514.99 484.16 L515.81 484.52 L516.63 485.04 L517.45 485.74 L518.27 486.6 L519.09 487.63 L519.91 488.83 L520.73 490.18 L521.55 491.68 L522.37 493.34 L523.19 495.14 L524.01 497.08 L524.83 499.16 L525.65 501.36 L526.47 503.69 L527.29 506.13 L528.11 508.68 L528.93 511.33 L529.75 514.08 L530.57 516.91 L531.39 519.82 L532.21 522.81 L533.03 525.86 L533.85 528.97 L534.67 532.12 L535.49 535.32 L536.31 538.55 L537.13 541.81 L537.95 545.09 L538.77 548.38 L539.59 551.68 L540.41 554.97 L541.23 558.26 L542.05 561.53 L542.87 564.79 L543.69 568.01 L544.51 571.21 L545.33 574.37 L546.15 577.48 L546.97 580.55 L547.79 583.57 L548.61 586.53 L549.43 589.44 L550.25 592.29 L551.07 595.07 L551.89 597.78 L552.71 600.42 L553.53 603 L554.35 605.5 L555.17 607.92 L555.99 610.27 L556.81 612.54 L557.63 614.74 L558.45 616.86 L559.27 618.9 L560.09 620.86 L560.91 622.75 L561.73 624.56 L562.55 626.3 L563.37 627.96 L564.19 629.54 L565.01 631.06 L565.83 632.51 L566.65 633.88 L567.47 635.19 L568.29 636.43 L569.11 637.61 L569.93 638.73 L570.75 639.79 L571.57 640.79 L572.39 641.73 L573.21 642.62 L574.03 643.46 L574.85 644.24 L575.67 644.98 L576.49 645.68 L577.31 646.33 L578.13 646.94 L578.95 647.51 L579.77 648.04 L580.59 648.53 L581.41 649 L582.23 649.43 L583.05 649.83 L583.87 650.2 L584.69 650.54 L585.51 650.86 L586.33 651.16 L587.15 651.43 L587.97 651.68 L588.79 651.91 L589.61 652.13 L590.43 652.32 L591.25 652.5 L592.07 652.67 L592.89 652.82 L593.71 652.96 L594.53 653.09 L595.35 653.2 L596.17 653.31 L596.99 653.41 L597.81 653.49 L598.63 653.57 L599.45 653.65 L600.27 653.71 L601.1 653.77" fill="none" stroke="#D95319" stroke-width="1.15" stroke-dasharray="4.1 2.1"/>
<path d="M409.89 654.3 L410.73 654.24 L411.57 654.17 L412.41 654.1 L413.26 654.03 L414.1 653.95 L414.94 653.87 L415.78 653.79 L416.63 653.7 L417.47 653.61 L418.31 653.52 L419.15 653.43 L420 653.34 L420.84 653.24 L421.68 653.14 L422.52 653.04 L423.37 652.94 L424.21 652.85 L425.05 652.75 L425.89 652.64 L426.74 652.54 L427.58 652.43 L428.42 652.31 L429.26 652.19 L430.11 652.06 L430.95 651.91 L431.79 651.75 L432.63 651.58 L433.48 651.39 L434.32 651.15 L435.16 650.89 L436 650.58 L436.85 650.25 L437.69 649.89 L438.53 649.5 L439.37 649.09 L440.21 648.65 L441.06 648.19 L441.9 647.67 L442.74 647.09 L443.58 646.45 L444.43 645.76 L445.27 645.02 L446.11 644.23 L446.95 643.4 L447.8 642.48 L448.64 641.44 L449.48 640.29 L450.32 639.07 L451.17 637.8 L452.01 636.51 L452.85 635.22 L453.69 633.95 L454.54 632.65 L455.38 631.31 L456.22 629.95 L457.06 628.57 L457.91 627.2 L458.75 625.84 L459.59 624.51 L460.43 623.21 L461.28 621.9 L462.12 620.61 L462.96 619.33 L463.8 618.09 L464.65 616.89 L465.49 615.76 L466.33 614.7 L467.17 613.68 L468.02 612.68 L468.86 611.66 L469.7 610.59 L470.54 609.46 L471.39 608.33 L472.23 607.19 L473.07 605.99 L473.91 604.69 L474.76 603.25 L475.6 601.62 L476.44 599.7 L477.28 597.51 L478.12 595.12 L478.97 592.57 L479.81 589.93 L480.65 587.24 L481.49 584.4 L482.34 581.38 L483.18 578.22 L484.02 574.94 L484.86 571.57 L485.71 568.14 L486.55 564.56 L487.39 560.82 L488.23 556.98 L489.08 553.09 L489.92 549.21 L490.76 545.39 L491.6 541.51 L492.45 537.54 L493.29 533.58 L494.13 529.73 L494.97 526.08 L495.82 522.73 L496.66 519.58 L497.5 516.52 L498.34 513.59 L499.19 510.88 L500.03 508.42 L500.87 506.29 L501.71 504.42 L502.56 502.69 L503.4 501.17 L504.24 499.92 L505.08 498.98 L505.93 498.12 L506.77 497.36 L507.61 496.8 L508.45 496.53 L509.3 496.55 L510.14 496.67 L510.98 496.85 L511.82 497.08 L512.67 497.35 L513.51 497.63 L514.35 497.95 L515.19 498.4 L516.03 498.94 L516.88 499.55 L517.72 500.19 L518.56 500.82 L519.4 501.41 L520.25 501.92 L521.09 502.36 L521.93 502.76 L522.77 503.14 L523.62 503.53 L524.46 503.95 L525.3 504.44 L526.14 504.96 L526.99 505.52 L527.83 506.16 L528.67 506.92 L529.51 507.88 L530.36 509.22 L531.2 510.88 L532.04 512.78 L532.88 514.83 L533.73 517.09 L534.57 519.72 L535.41 522.62 L536.25 525.7 L537.1 528.87 L537.94 532.28 L538.78 535.92 L539.62 539.7 L540.47 543.51 L541.31 547.3 L542.15 551.13 L542.99 555.03 L543.84 559.01 L544.68 563.1 L545.52 567.45 L546.36 571.95 L547.21 576.39 L548.05 580.54 L548.89 584.37 L549.73 588.02 L550.58 591.54 L551.42 594.97 L552.26 598.38 L553.1 601.76 L553.94 605.04 L554.79 608.12 L555.63 610.93 L556.47 613.58 L557.31 616.1 L558.16 618.49 L559 620.75 L559.84 622.87 L560.68 624.86 L561.53 626.78 L562.37 628.62 L563.21 630.35 L564.05 631.96 L564.9 633.42 L565.74 634.71 L566.58 635.91 L567.42 637.06 L568.27 638.13 L569.11 639.14 L569.95 640.06 L570.79 640.89 L571.64 641.62 L572.48 642.26 L573.32 642.83 L574.16 643.35 L575.01 643.83 L575.85 644.27 L576.69 644.69 L577.53 645.09 L578.38 645.46 L579.22 645.83 L580.06 646.2 L580.9 646.56 L581.75 646.92 L582.59 647.28 L583.43 647.63 L584.27 647.97 L585.12 648.29 L585.96 648.6 L586.8 648.9 L587.64 649.18 L588.49 649.44 L589.33 649.68 L590.17 649.9 L591.01 650.1 L591.85 650.3 L592.7 650.49 L593.54 650.67 L594.38 650.84 L595.22 651 L596.07 651.16 L596.91 651.31 L597.75 651.45 L598.59 651.59 L599.44 651.72 L600.28 651.85 L601.12 651.98 L601.96 652.1 L602.81 652.21 L603.65 652.33 L604.49 652.44 L605.33 652.54 L606.18 652.64 L607.02 652.74 L607.86 652.83 L608.7 652.92 L609.55 653.01 L610.39 653.09 L611.23 653.17 L612.07 653.25 L612.92 653.32 L613.76 653.39 L614.6 653.46 L615.44 653.53 L616.29 653.59 L617.13 653.65 L617.97 653.71 L618.81 653.77 L619.66 653.83 L620.5 653.88 L621.34 653.93 L622.18 653.99 L623.03 654.04 L623.87 654.09 L624.71 654.13 L625.55 654.18 L626.4 654.22 L627.24 654.26 L628.08 654.3" fill="none" stroke="#0072BD" stroke-width="1.25" stroke-linejoin="round" stroke-linecap="round"/>
<rect x="528.85" y="483.25" width="115.25" height="19.25" fill="#fff" stroke="#7d7d7d" stroke-width="0.8"/>
<path d="M531.1 488.9H546" stroke="#0072BD" stroke-width="1.2" fill="none"/>
<path d="M531.1 497.6H535.2M539 497.6H543" stroke="#D95319" stroke-width="1.15" fill="none"/>
<text transform="translate(548.1 491.5) rotate(0.03) scale(1.143 1.000)" font-family="Liberation Sans, sans-serif" font-size="7.3" font-weight="bold" fill="#1a1a1a" text-anchor="start" stroke="#1a1a1a" stroke-width="0.22" stroke-linejoin="round">Kernel density estimate</text>
<text transform="translate(548.1 500.4) rotate(0.03) scale(1.143 1.000)" font-family="Liberation Sans, sans-serif" font-size="7.3" font-weight="bold" fill="#1a1a1a" text-anchor="start" stroke="#1a1a1a" stroke-width="0.22" stroke-linejoin="round">Normal density</text>
<text transform="translate(400 494.7) rotate(0.03) scale(1.139 1.000)" font-family="Liberation Sans, sans-serif" font-size="7.3" font-weight="bold" fill="#1a1a1a" text-anchor="start" stroke="#1a1a1a" stroke-width="0.22" stroke-linejoin="round">Kolmogorov-Smirnov</text>
<text transform="translate(400 503.5) rotate(0.03) scale(1.139 1.000)" font-family="Liberation Sans, sans-serif" font-size="7.3" font-weight="bold" fill="#1a1a1a" text-anchor="start" stroke="#1a1a1a" stroke-width="0.22" stroke-linejoin="round">p-value = 0.901</text>
<text transform="translate(488 474.9) rotate(0.03) scale(1.120 1.000)" font-family="Liberation Sans, sans-serif" font-size="10.8" font-weight="bold" fill="#1a1a1a" text-anchor="start" stroke="#1a1a1a" stroke-width="0.32" stroke-linejoin="round">E</text>
<text transform="translate(497.1 480.4) rotate(0.03) scale(1.148 1.000)" font-family="Liberation Sans, sans-serif" font-size="8.8" font-weight="bold" fill="#1a1a1a" text-anchor="start" stroke="#1a1a1a" stroke-width="0.26" stroke-linejoin="round">h column</text>
<text transform="translate(354.2 567.8) rotate(-89.97) scale(1.000 1.070)" font-family="Liberation Sans, sans-serif" font-size="9.9" font-weight="bold" fill="#1a1a1a" text-anchor="middle" stroke="#1a1a1a" stroke-width="0.3" stroke-linejoin="round">Density</text>
<text transform="translate(489.4 677.3) rotate(0.03) scale(1.058 1.000)" font-family="Liberation Sans, sans-serif" font-size="9.8" font-weight="bold" fill="#1a1a1a" text-anchor="start" stroke="#1a1a1a" stroke-width="0.29" stroke-linejoin="round">Residuals</text>
<text transform="translate(666.6 120.55) rotate(0.03) scale(1.000 1.000)" font-family="Liberation Serif, sans-serif" font-size="15.6" font-weight="normal" fill="#111" text-anchor="middle" stroke="#111" stroke-width="0.3" stroke-linejoin="round">(a)</text>
<text transform="translate(659.4 366.65) rotate(0.03) scale(1.000 1.000)" font-family="Liberation Serif, sans-serif" font-size="15.6" font-weight="normal" fill="#111" text-anchor="middle" stroke="#111" stroke-width="0.3" stroke-linejoin="round">(b)</text>
<text transform="translate(675.8 563.75) rotate(0.03) scale(1.000 1.000)" font-family="Liberation Serif, sans-serif" font-size="15.6" font-weight="normal" fill="#111" text-anchor="middle" stroke="#111" stroke-width="0.3" stroke-linejoin="round">(c)</text>
</svg>
</body></html>
